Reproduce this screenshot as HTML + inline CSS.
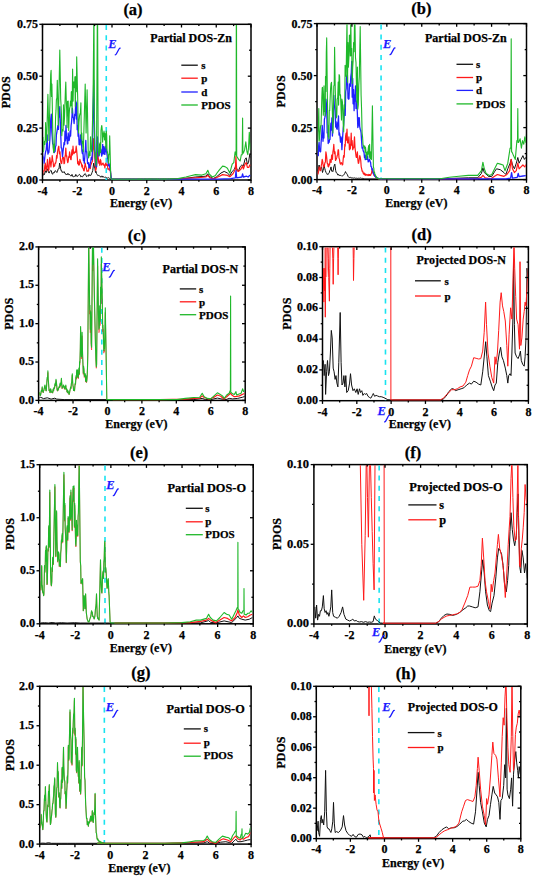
<!DOCTYPE html>
<html><head><meta charset="utf-8"><style>
html,body{margin:0;padding:0;background:#fff;}
svg{display:block;}
text{font-family:"Liberation Serif", serif;font-weight:bold;fill:#000;stroke:#000;stroke-width:0.25px;}
.tl{font-size:12px;}
.pt{font-size:16.5px;}
.ax{font-size:12px;}
.lt{font-size:12px;}
.lg{font-size:11px;}
.ef{font-size:12.5px;font-style:italic;fill:#1a1aff;stroke:#1a1aff;}
</style></head><body>
<svg width="533" height="876" viewBox="0 0 533 876">
<rect width="533" height="876" fill="#fff"/>
<clipPath id="ca"><rect x="43.2" y="25.0" width="207.1" height="156.5"/></clipPath>
<rect x="42.5" y="24.3" width="208.50" height="155.70" fill="none" stroke="#000" stroke-width="1.5"/>
<line x1="106.27" y1="25.1" x2="106.27" y2="180" stroke="#19e3f0" stroke-width="1.6" stroke-dasharray="5,5.2"/>
<g clip-path="url(#ca)" fill="none" stroke-linejoin="round">
<polyline points="42.4,176.3 43.1,175.2 43.8,173.5 44.3,174.7 44.8,173.2 45.3,170.7 46.2,172.5 46.9,170.0 47.5,168.8 48.5,172.5 49.1,173.1 49.8,171.6 50.3,171.0 50.8,170.3 51.3,170.7 51.9,173.3 52.6,174.3 53.2,172.5 53.8,172.8 54.4,172.7 55.1,170.7 55.7,171.0 56.3,171.5 56.9,172.5 57.5,171.5 58.0,169.4 58.5,168.8 59.0,168.9 59.6,163.1 60.2,165.6 60.7,168.8 61.2,170.9 61.7,170.7 62.2,172.5 62.8,172.1 63.5,172.3 64.1,171.6 64.7,173.1 65.2,173.2 65.8,174.5 66.4,174.4 67.0,175.0 67.6,173.6 68.2,173.5 68.9,174.9 69.5,174.5 70.1,175.4 70.8,175.9 71.4,175.9 72.0,174.4 72.6,176.4 73.3,176.8 73.9,176.3 74.5,176.3 75.2,176.4 75.8,174.4 76.4,176.0 77.0,176.4 77.7,176.3 78.3,175.4 78.9,174.7 79.5,174.4 80.2,175.1 80.8,176.8 81.4,176.3 82.1,177.0 82.7,176.7 83.3,175.4 83.9,175.3 84.6,174.0 85.2,173.5 85.8,174.7 86.5,176.6 87.1,176.3 87.7,175.7 88.3,176.3 89.0,174.4 89.6,175.5 90.2,175.6 90.8,175.4 91.5,173.9 92.1,172.4 92.7,170.7 93.7,163.1 94.3,166.1 95.0,168.8 95.5,172.5 96.0,171.3 96.5,173.5 97.1,174.4 97.8,175.6 98.4,175.4 99.0,175.8 99.6,175.9 100.3,176.3 100.9,177.3 101.5,176.2 102.1,175.9 102.8,177.3 103.4,176.9 104.0,176.7 104.7,177.5 105.3,177.2 105.9,177.3 106.5,177.7 107.0,177.7 107.6,178.1 108.2,177.6 108.7,177.8 109.4,178.3 110.0,178.7 110.6,179.1 111.2,179.1 111.6,179.2 112.1,179.2 112.6,179.2 113.1,179.2 113.6,179.2 114.1,179.2 114.6,179.2 115.1,179.2 115.6,179.2 116.1,179.2 116.6,179.2 117.1,179.2 117.6,179.2 118.1,179.2 118.6,179.2 119.1,179.2 119.6,179.2 120.1,179.2 120.6,179.2 121.1,179.2 121.6,179.2 122.1,179.2 122.6,179.2 123.1,179.2 123.7,179.2 124.2,179.2 124.7,179.2 125.2,179.2 125.7,179.2 126.2,179.2 126.7,179.2 127.2,179.2 127.7,179.2 128.2,179.2 128.7,179.2 129.2,179.2 129.7,179.2 130.2,179.2 130.7,179.2 131.2,179.2 131.7,179.2 132.2,179.2 132.7,179.2 133.2,179.2 133.7,179.2 134.2,179.2 134.7,179.2 135.2,179.2 135.7,179.2 136.2,179.2 136.8,179.2 137.3,179.2 137.8,179.2 138.3,179.2 138.8,179.2 139.3,179.2 139.8,179.2 140.3,179.2 140.8,179.2 141.3,179.2 141.8,179.2 142.3,179.1 142.8,179.2 143.3,179.2 143.8,179.2 144.3,179.1 144.8,179.2 145.3,179.2 145.8,179.1 146.3,179.2 146.8,179.2 147.3,179.1 147.8,179.2 148.3,179.2 148.8,179.2 149.3,179.2 149.8,179.1 150.4,179.2 150.9,179.2 151.4,179.1 151.9,179.2 152.4,179.1 152.9,179.2 153.4,179.2 153.9,179.2 154.4,179.2 154.9,179.1 155.4,179.2 155.9,179.1 156.4,179.2 156.9,179.2 157.4,179.2 157.9,179.2 158.4,179.2 158.9,179.2 159.4,179.2 159.9,179.2 160.4,179.2 160.9,179.2 161.4,179.2 161.9,179.2 162.4,179.2 162.9,179.2 163.5,179.2 164.0,179.2 164.5,179.1 165.0,179.1 165.5,179.2 166.0,179.2 166.5,179.2 167.0,179.2 167.5,179.2 168.0,179.2 168.5,179.2 169.0,179.2 169.5,179.2 170.0,179.1 185.9,178.3 195.5,177.0 205.9,176.2 207.8,173.8 209.1,176.2 213.1,178.6 216.3,177.0 221.0,173.0 224.2,171.4 227.4,173.0 229.8,175.4 232.2,171.4 234.6,169.0 235.9,165.0 237.0,169.8 238.6,170.6 240.2,166.6 241.8,165.0 243.4,165.8 245.0,159.4 246.2,157.8 247.4,164.2 248.5,162.6 249.7,154.7 251.0,157.8 251.7,156.3" stroke="#111111" stroke-width="1.0"/>
<polyline points="42.4,174.4 42.9,173.9 43.3,171.4 43.8,170.7 44.3,171.0 44.8,165.9 45.3,163.1 45.7,168.6 46.2,170.7 46.7,166.7 47.1,163.9 47.5,159.4 48.0,167.4 48.5,170.7 48.9,169.4 49.4,162.4 49.8,157.5 50.4,162.0 50.9,166.9 51.4,162.2 51.8,161.1 52.2,155.6 52.7,160.0 53.1,162.0 53.6,166.9 54.1,165.2 54.6,166.1 55.1,163.1 55.6,163.3 56.1,161.1 56.6,155.6 57.0,158.1 57.5,152.3 57.9,149.9 58.4,147.0 58.8,146.2 59.4,153.8 60.0,151.8 60.5,160.2 61.1,163.1 61.7,163.5 62.2,159.4 62.7,157.4 63.1,157.2 63.5,157.5 64.0,163.7 64.5,163.1 64.9,157.4 65.4,154.5 65.8,148.1 66.3,156.1 66.7,155.6 67.2,160.0 67.7,162.7 68.2,161.2 68.7,156.5 69.1,157.5 69.6,151.8 70.1,155.9 70.7,159.4 71.1,159.7 71.6,153.3 72.0,149.9 72.5,154.9 73.0,146.2 73.4,151.0 73.9,153.7 74.5,152.6 75.0,151.8 75.6,152.3 76.2,146.2 76.7,150.9 77.3,157.5 77.7,163.7 78.2,161.4 78.6,165.0 79.0,165.1 79.5,164.3 79.9,159.4 80.5,161.8 81.1,163.1 81.5,164.0 81.9,167.0 82.4,165.0 82.8,168.3 83.3,168.6 83.7,170.7 84.2,170.8 84.7,166.5 85.2,163.1 85.6,165.9 86.1,167.4 86.5,168.8 87.0,171.5 87.5,170.9 88.0,170.7 88.5,171.2 88.9,168.1 89.3,166.9 89.8,165.4 90.3,168.7 90.8,165.0 91.3,164.0 91.9,162.1 92.4,161.2 92.8,154.2 93.2,146.9 93.7,138.6 94.1,147.7 94.6,151.8 95.2,165.4 95.7,170.7 96.3,168.4 96.9,163.1 97.6,151.8 98.2,157.2 98.8,163.1 99.3,161.3 99.8,165.3 100.3,159.4 100.8,160.5 101.3,164.7 101.8,165.0 102.2,164.3 102.6,163.4 103.1,163.1 103.5,164.5 104.0,165.4 104.4,165.0 104.9,167.8 105.4,163.8 105.9,163.1 106.4,165.3 106.9,164.4 107.4,165.0 107.9,169.2 108.3,169.0 108.7,168.8 109.2,169.9 109.6,170.1 110.1,166.9 110.6,172.8 111.2,178.2 111.6,179.2 112.0,179.2 112.4,179.2 112.8,179.2 113.2,179.2 113.6,179.2 114.0,179.2 114.4,179.2 114.8,179.2 115.2,179.2 115.6,179.2 116.0,179.2 116.4,179.2 116.8,179.2 117.2,179.2 117.6,179.2 118.0,179.2 118.4,179.2 118.8,179.2 119.2,179.2 119.6,179.2 120.0,179.2 120.4,179.2 120.8,179.2 121.2,179.2 121.6,179.2 122.0,179.2 122.4,179.2 122.8,179.2 123.2,179.2 123.6,179.2 124.0,179.2 124.4,179.2 124.8,179.2 125.2,179.2 125.6,179.2 126.0,179.2 126.4,179.2 126.8,179.2 127.2,179.2 127.6,179.2 128.0,179.2 128.4,179.2 128.8,179.2 129.2,179.2 129.6,179.2 130.0,179.2 130.4,179.2 130.8,179.2 131.2,179.2 131.6,179.2 132.0,179.2 132.4,179.2 132.8,179.2 133.2,179.2 133.6,179.2 134.0,179.2 134.4,179.2 134.8,179.2 135.2,179.2 135.6,179.2 136.0,179.2 136.4,179.2 136.8,179.2 137.2,179.2 137.6,179.2 138.0,179.2 138.4,179.2 138.8,179.2 139.2,179.2 139.6,179.2 140.0,179.2 140.4,179.2 140.8,179.2 141.2,179.2 141.6,179.2 142.0,179.2 142.4,179.2 142.8,179.2 143.2,179.2 143.6,179.2 144.0,179.2 144.4,179.2 144.8,179.2 145.2,179.2 145.6,179.2 146.0,179.2 146.4,179.2 146.8,179.2 147.2,179.2 147.6,179.2 148.0,179.2 148.4,179.2 148.8,179.2 149.2,179.2 149.6,179.2 150.0,179.2 150.4,179.2 150.8,179.2 151.2,179.2 151.6,179.2 152.0,179.2 152.4,179.2 152.8,179.2 153.2,179.2 153.6,179.2 154.0,179.2 154.4,179.2 154.8,179.2 155.2,179.2 155.6,179.2 156.0,179.2 156.4,179.2 156.8,179.2 157.2,179.2 157.6,179.2 158.0,179.2 158.4,179.2 158.8,179.2 159.2,179.2 159.6,179.2 160.0,179.2 160.4,179.2 160.8,179.2 161.2,179.2 161.6,179.2 162.0,179.2 162.4,179.2 162.8,179.2 163.2,179.2 163.6,179.2 164.0,179.2 164.4,179.2 164.8,179.2 165.2,179.2 165.6,179.2 166.0,179.2 166.4,179.2 166.8,179.2 167.2,179.2 167.6,179.2 168.0,179.2 168.4,179.2 168.8,179.2 169.2,179.2 169.6,179.2 170.0,179.2 195.5,177.8 205.9,177.0 207.8,175.4 209.9,177.8 213.9,178.9 217.8,177.0 222.6,174.6 227.4,175.4 229.8,176.7 233.0,173.8 235.4,169.0 235.9,156.3 236.7,170.6 238.6,171.4 241.0,169.0 242.6,165.8 243.4,169.0 245.0,164.2 246.2,162.6 247.4,167.4 248.9,167.4 249.7,165.0 251.7,165.8" stroke="#ff1a1a" stroke-width="1.2"/>
<polyline points="42.4,151.8 42.9,157.2 43.3,156.8 43.7,159.0 44.1,163.1 44.6,159.1 45.1,154.7 45.6,151.8 46.2,150.0 46.7,143.4 47.2,134.9 47.6,149.6 48.0,154.1 48.5,151.8 48.9,152.2 49.4,146.4 49.9,139.0 50.4,125.5 50.8,118.6 51.3,114.2 51.8,131.7 52.2,136.8 52.7,143.9 53.2,144.3 53.7,149.6 54.2,152.5 54.7,151.8 55.1,151.4 55.5,146.3 56.0,145.6 56.4,134.9 56.9,131.9 57.4,128.7 57.9,125.5 58.4,129.4 58.8,108.5 59.3,117.2 59.8,106.6 60.2,119.0 60.7,133.0 61.2,147.9 61.7,148.1 62.1,152.3 62.5,156.7 63.0,151.8 63.5,147.5 64.1,142.4 64.6,144.7 65.0,131.1 65.5,140.8 66.0,125.5 66.5,138.3 66.9,136.8 67.4,143.9 67.8,143.7 68.2,133.0 68.7,138.6 69.2,140.5 69.7,136.6 70.1,131.1 70.6,136.0 71.1,125.5 71.5,122.6 72.0,115.9 72.4,108.5 73.0,117.4 73.5,117.9 74.1,123.5 74.7,114.2 75.2,115.5 75.8,101.0 76.3,119.0 76.7,102.9 77.2,129.7 77.7,125.5 78.1,136.3 78.6,133.0 79.1,144.5 79.5,140.5 80.0,144.9 80.5,134.9 81.0,137.0 81.4,140.5 81.9,151.0 82.4,153.6 82.9,149.9 83.4,160.4 83.8,158.8 84.3,163.1 84.8,156.7 85.3,150.0 85.8,140.5 86.2,151.4 86.7,151.8 87.1,157.2 87.6,163.7 88.0,163.1 88.5,162.8 88.9,167.8 89.3,165.0 89.8,167.4 90.3,163.0 90.8,161.2 91.3,157.5 91.9,159.7 92.4,151.8 93.7,80.3 94.6,133.0 95.2,156.3 95.7,165.0 96.5,166.9 97.0,152.8 97.4,136.8 97.9,152.3 98.4,151.8 98.9,156.2 99.4,154.4 99.9,149.9 100.3,152.2 100.8,149.1 101.2,151.8 101.7,156.1 102.2,153.3 102.7,144.3 103.2,153.9 103.6,146.6 104.0,148.1 104.5,154.2 104.9,154.4 105.3,146.2 105.8,151.5 106.3,148.1 106.9,153.6 107.4,157.5 107.9,159.4 108.3,165.7 108.7,163.1 109.2,164.4 109.6,167.1 110.1,166.9 110.6,173.2 111.2,178.2 111.6,179.2 112.0,179.2 112.4,179.2 112.8,179.2 113.2,179.2 113.6,179.2 114.0,179.2 114.4,179.2 114.8,179.2 115.2,179.2 115.6,179.2 116.0,179.2 116.4,179.2 116.8,179.2 117.2,179.2 117.6,179.2 118.0,179.2 118.4,179.2 118.8,179.2 119.2,179.2 119.6,179.2 120.0,179.2 120.4,179.2 120.8,179.2 121.2,179.2 121.6,179.2 122.0,179.2 122.4,179.2 122.8,179.2 123.2,179.2 123.6,179.2 124.0,179.2 124.4,179.2 124.8,179.2 125.2,179.2 125.6,179.2 126.0,179.2 126.4,179.2 126.8,179.2 127.2,179.2 127.6,179.2 128.0,179.2 128.4,179.2 128.8,179.2 129.2,179.2 129.6,179.2 130.0,179.2 130.4,179.2 130.8,179.2 131.2,179.2 131.6,179.2 132.0,179.2 132.4,179.2 132.8,179.2 133.2,179.2 133.6,179.2 134.0,179.2 134.4,179.2 134.8,179.2 135.2,179.2 135.6,179.2 136.0,179.2 136.4,179.2 136.8,179.2 137.2,179.2 137.6,179.2 138.0,179.2 138.4,179.2 138.8,179.2 139.2,179.2 139.6,179.2 140.0,179.2 140.4,179.2 140.8,179.2 141.2,179.2 141.6,179.2 142.0,179.2 142.4,179.2 142.8,179.2 143.2,179.2 143.6,179.2 144.0,179.2 144.4,179.2 144.8,179.2 145.2,179.2 145.6,179.2 146.0,179.2 146.4,179.2 146.8,179.2 147.2,179.2 147.6,179.2 148.0,179.2 148.4,179.2 148.8,179.2 149.2,179.2 149.6,179.2 150.0,179.2 150.4,179.2 150.8,179.2 151.2,179.2 151.6,179.2 152.0,179.2 152.4,179.2 152.8,179.2 153.2,179.2 153.6,179.2 154.0,179.2 154.4,179.2 154.8,179.2 155.2,179.2 155.6,179.2 156.0,179.2 156.4,179.2 156.8,179.2 157.2,179.2 157.6,179.2 158.0,179.2 158.4,179.2 158.8,179.2 159.2,179.2 159.6,179.2 160.0,179.2 160.4,179.2 160.8,179.2 161.2,179.2 161.6,179.2 162.0,179.2 162.4,179.2 162.8,179.2 163.2,179.2 163.6,179.2 164.0,179.2 164.4,179.2 164.8,179.2 165.2,179.2 165.6,179.2 166.0,179.2 166.4,179.2 166.8,179.2 167.2,179.2 167.6,179.2 168.0,179.2 168.4,179.2 168.8,179.2 169.2,179.2 169.6,179.2 170.0,179.2 217.8,179.2 230.6,178.6 235.4,177.8 236.0,170.6 236.7,177.8 241.8,177.0 242.6,173.8 243.4,177.0 246.6,176.2 248.1,177.0 249.7,175.4 251.7,176.2" stroke="#2020ff" stroke-width="1.3"/>
<polyline points="42.4,136.8 42.8,146.4 43.1,137.4 43.5,151.7 43.8,148.1 44.1,144.3 44.5,141.4 44.9,144.4 45.3,138.7 45.6,122.6 46.1,138.5 46.6,142.4 47.9,94.4 48.9,140.5 50.7,74.6 51.1,70.3 51.5,96.5 51.9,84.0 52.8,133.0 53.2,147.8 53.7,152.7 54.1,144.3 54.5,150.7 54.9,137.0 55.3,129.8 55.6,116.7 56.0,110.4 56.4,99.8 56.9,97.6 57.3,80.3 58.3,125.5 59.8,50.1 60.7,99.1 61.1,105.8 61.5,116.0 61.8,135.6 62.2,129.2 62.7,130.1 63.1,131.1 63.5,104.7 64.0,125.1 64.5,117.9 64.9,105.8 65.4,90.6 65.8,82.1 66.3,101.4 66.7,110.4 67.1,127.6 67.5,101.4 67.9,115.8 68.2,101.0 68.7,130.6 69.2,114.2 69.6,108.3 70.1,106.3 70.5,101.0 70.9,105.7 71.3,91.9 71.6,91.6 72.1,113.0 72.6,69.0 73.1,101.1 73.5,82.1 74.0,82.0 74.5,87.8 74.9,76.7 75.3,106.2 75.8,76.5 76.3,91.7 76.7,56.7 77.7,99.1 78.1,119.2 78.6,133.0 79.0,121.9 79.5,115.9 79.9,114.2 80.4,112.9 80.9,102.9 81.3,138.4 81.8,133.0 82.2,143.5 82.6,141.4 82.9,147.2 83.3,151.8 85.2,84.0 86.1,133.0 87.1,89.7 88.2,151.8 88.6,157.9 89.0,155.2 89.3,155.6 89.7,151.0 90.1,155.6 90.5,136.8 90.9,147.9 91.3,149.0 91.8,151.8 93.1,95.3 93.8,20.0 94.0,20.0 94.5,151.8 94.9,152.2 95.3,158.1 95.7,157.3 96.1,165.8 96.5,161.2 97.3,20.0 97.6,20.0 98.2,151.8 98.5,152.2 98.9,155.2 99.2,155.3 99.6,143.8 99.9,150.3 100.3,142.4 100.6,152.5 101.0,130.6 101.4,127.2 101.8,125.5 102.2,129.6 102.6,142.1 103.1,133.0 103.6,136.6 104.0,131.1 104.5,139.9 105.0,133.0 105.4,137.9 105.9,148.1 106.3,131.1 106.7,135.4 107.0,150.9 107.4,151.8 107.8,153.8 108.2,158.0 108.5,163.1 108.9,155.0 109.3,154.0 109.7,135.8 110.8,178.2 111.2,178.7 111.6,179.1 111.9,179.2 112.2,179.2 112.6,179.0 112.9,179.2 113.2,179.2 113.5,179.1 113.9,179.1 114.2,179.1 114.5,179.2 114.9,179.2 115.2,179.2 115.5,179.1 115.9,179.1 116.2,179.2 116.5,179.1 116.8,179.2 117.2,179.2 117.5,179.2 117.8,179.1 118.2,179.2 118.5,179.2 118.8,179.2 119.2,179.2 119.5,179.2 119.8,179.2 120.1,179.0 120.5,179.0 120.8,179.2 121.1,179.2 121.5,179.1 121.8,179.2 122.1,179.2 122.5,179.1 122.8,179.2 123.1,179.2 123.4,179.2 123.8,179.2 124.1,179.1 124.4,179.2 124.8,179.2 125.1,179.1 125.4,179.2 125.8,179.2 126.1,179.1 126.4,179.1 126.8,179.1 127.1,179.2 127.4,179.2 127.7,179.1 128.1,179.1 128.4,179.1 128.7,179.0 129.1,179.1 129.4,179.2 129.7,179.2 130.1,179.1 130.4,179.2 130.7,179.2 131.0,179.0 131.4,179.2 131.7,179.2 132.0,179.2 132.4,179.2 132.7,179.1 133.0,179.1 133.4,179.2 133.7,179.0 134.0,179.1 134.3,179.1 134.7,179.2 135.0,179.2 135.3,179.2 135.7,179.1 136.0,179.0 136.3,179.2 136.7,179.2 137.0,179.2 137.3,179.1 137.6,179.2 138.0,179.1 138.3,179.2 138.6,179.0 139.0,179.2 139.3,178.9 139.6,179.1 140.0,179.1 140.3,179.0 140.6,179.2 140.9,178.9 141.3,179.2 141.6,179.0 141.9,179.2 142.3,179.2 142.6,179.2 142.9,179.1 143.3,179.2 143.6,179.2 143.9,179.2 144.2,179.0 144.6,179.0 144.9,178.9 145.2,179.2 145.6,178.9 145.9,179.2 146.2,179.1 146.6,179.0 146.9,179.1 147.2,179.2 147.5,179.2 147.9,179.2 148.2,178.9 148.5,179.2 148.9,178.9 149.2,178.9 149.5,179.2 149.9,179.1 150.2,179.2 150.5,179.0 150.9,178.9 151.2,178.9 151.5,179.1 151.8,179.1 152.2,179.0 152.5,179.0 152.8,179.1 153.2,179.1 153.5,178.9 153.8,179.0 154.2,179.2 154.5,179.0 154.8,179.0 155.1,178.9 155.5,179.1 155.8,179.2 156.1,178.9 156.5,179.2 156.8,178.9 157.1,179.2 157.5,179.2 157.8,179.1 158.1,179.2 158.4,178.9 158.8,179.2 159.1,179.2 159.4,179.2 159.8,179.2 160.1,179.0 160.4,178.9 160.8,179.1 161.1,179.2 161.4,178.9 161.7,179.2 162.1,179.2 162.4,179.1 162.7,178.9 163.1,178.9 163.4,178.9 163.7,179.2 164.1,179.0 164.4,179.0 164.7,179.2 165.0,178.9 165.4,179.2 165.7,178.9 166.0,179.2 166.4,179.0 166.7,179.1 167.0,179.0 167.4,179.0 167.7,179.1 168.0,179.1 168.3,178.8 168.7,179.0 169.0,179.1 169.3,178.9 169.7,179.1 170.0,178.9 178.0,178.6 185.9,177.0 190.7,175.7 195.5,174.6 201.9,175.1 205.9,173.8 207.8,170.3 209.1,173.8 212.3,177.0 215.5,175.4 217.0,173.0 219.4,169.8 222.6,166.1 225.0,166.6 227.4,168.2 229.8,173.0 232.2,164.2 233.8,162.6 235.1,151.8 236.1,155.5 236.3,14.3 236.5,14.3 236.7,156.3 238.6,159.4 240.2,161.0 241.3,154.7 242.2,154.7 242.6,118.0 242.9,153.1 243.4,153.1 244.6,149.9 245.8,141.9 246.9,151.5 247.8,154.7 248.5,148.3 249.3,132.3 250.2,149.9 251.0,143.5 251.7,141.9" stroke="#1fb82a" stroke-width="1.1"/>
</g>
<line x1="42.50" y1="180" x2="42.50" y2="183.2" stroke="#000" stroke-width="1.3"/>
<line x1="42.50" y1="24.3" x2="42.50" y2="27.5" stroke="#000" stroke-width="1.3"/>
<text x="42.50" y="194.80" text-anchor="middle" class="tl">-4</text>
<line x1="59.88" y1="180" x2="59.88" y2="181.8" stroke="#000" stroke-width="1.3"/>
<line x1="59.88" y1="24.3" x2="59.88" y2="26.1" stroke="#000" stroke-width="1.3"/>
<line x1="77.25" y1="180" x2="77.25" y2="183.2" stroke="#000" stroke-width="1.3"/>
<line x1="77.25" y1="24.3" x2="77.25" y2="27.5" stroke="#000" stroke-width="1.3"/>
<text x="77.25" y="194.80" text-anchor="middle" class="tl">-2</text>
<line x1="94.62" y1="180" x2="94.62" y2="181.8" stroke="#000" stroke-width="1.3"/>
<line x1="94.62" y1="24.3" x2="94.62" y2="26.1" stroke="#000" stroke-width="1.3"/>
<line x1="112.00" y1="180" x2="112.00" y2="183.2" stroke="#000" stroke-width="1.3"/>
<line x1="112.00" y1="24.3" x2="112.00" y2="27.5" stroke="#000" stroke-width="1.3"/>
<text x="112.00" y="194.80" text-anchor="middle" class="tl">0</text>
<line x1="129.38" y1="180" x2="129.38" y2="181.8" stroke="#000" stroke-width="1.3"/>
<line x1="129.38" y1="24.3" x2="129.38" y2="26.1" stroke="#000" stroke-width="1.3"/>
<line x1="146.75" y1="180" x2="146.75" y2="183.2" stroke="#000" stroke-width="1.3"/>
<line x1="146.75" y1="24.3" x2="146.75" y2="27.5" stroke="#000" stroke-width="1.3"/>
<text x="146.75" y="194.80" text-anchor="middle" class="tl">2</text>
<line x1="164.12" y1="180" x2="164.12" y2="181.8" stroke="#000" stroke-width="1.3"/>
<line x1="164.12" y1="24.3" x2="164.12" y2="26.1" stroke="#000" stroke-width="1.3"/>
<line x1="181.50" y1="180" x2="181.50" y2="183.2" stroke="#000" stroke-width="1.3"/>
<line x1="181.50" y1="24.3" x2="181.50" y2="27.5" stroke="#000" stroke-width="1.3"/>
<text x="181.50" y="194.80" text-anchor="middle" class="tl">4</text>
<line x1="198.88" y1="180" x2="198.88" y2="181.8" stroke="#000" stroke-width="1.3"/>
<line x1="198.88" y1="24.3" x2="198.88" y2="26.1" stroke="#000" stroke-width="1.3"/>
<line x1="216.25" y1="180" x2="216.25" y2="183.2" stroke="#000" stroke-width="1.3"/>
<line x1="216.25" y1="24.3" x2="216.25" y2="27.5" stroke="#000" stroke-width="1.3"/>
<text x="216.25" y="194.80" text-anchor="middle" class="tl">6</text>
<line x1="233.62" y1="180" x2="233.62" y2="181.8" stroke="#000" stroke-width="1.3"/>
<line x1="233.62" y1="24.3" x2="233.62" y2="26.1" stroke="#000" stroke-width="1.3"/>
<line x1="251.00" y1="180" x2="251.00" y2="183.2" stroke="#000" stroke-width="1.3"/>
<line x1="251.00" y1="24.3" x2="251.00" y2="27.5" stroke="#000" stroke-width="1.3"/>
<text x="251.00" y="194.80" text-anchor="middle" class="tl">8</text>
<line x1="42.5" y1="180.00" x2="39.3" y2="180.00" stroke="#000" stroke-width="1.3"/>
<line x1="251" y1="180.00" x2="247.8" y2="180.00" stroke="#000" stroke-width="1.3"/>
<line x1="42.5" y1="154.05" x2="40.7" y2="154.05" stroke="#000" stroke-width="1.3"/>
<line x1="251" y1="154.05" x2="249.2" y2="154.05" stroke="#000" stroke-width="1.3"/>
<line x1="42.5" y1="128.10" x2="39.3" y2="128.10" stroke="#000" stroke-width="1.3"/>
<line x1="251" y1="128.10" x2="247.8" y2="128.10" stroke="#000" stroke-width="1.3"/>
<line x1="42.5" y1="102.15" x2="40.7" y2="102.15" stroke="#000" stroke-width="1.3"/>
<line x1="251" y1="102.15" x2="249.2" y2="102.15" stroke="#000" stroke-width="1.3"/>
<line x1="42.5" y1="76.20" x2="39.3" y2="76.20" stroke="#000" stroke-width="1.3"/>
<line x1="251" y1="76.20" x2="247.8" y2="76.20" stroke="#000" stroke-width="1.3"/>
<line x1="42.5" y1="50.25" x2="40.7" y2="50.25" stroke="#000" stroke-width="1.3"/>
<line x1="251" y1="50.25" x2="249.2" y2="50.25" stroke="#000" stroke-width="1.3"/>
<line x1="42.5" y1="24.30" x2="39.3" y2="24.30" stroke="#000" stroke-width="1.3"/>
<line x1="251" y1="24.30" x2="247.8" y2="24.30" stroke="#000" stroke-width="1.3"/>
<text x="37.90" y="184.00" text-anchor="end" class="tl" style="font-size:12px">0.00</text>
<text x="37.90" y="132.10" text-anchor="end" class="tl" style="font-size:12px">0.25</text>
<text x="37.90" y="80.20" text-anchor="end" class="tl" style="font-size:12px">0.50</text>
<text x="37.90" y="28.30" text-anchor="end" class="tl" style="font-size:12px">0.75</text>
<text x="133" y="14.5" text-anchor="middle" class="pt">(a)</text>
<text x="141.1" y="206.8" text-anchor="middle" class="ax">Energy (eV)</text>
<text transform="translate(6,92.3) rotate(-90)" x="0" y="4.2" text-anchor="middle" class="ax">PDOS</text>
<text x="150.3" y="42.4" class="lt" style="font-size:12px">Partial DOS-Zn</text>
<line x1="181.3" y1="65.2" x2="197.8" y2="65.2" stroke="#111111" stroke-width="1.3"/>
<text x="201.3" y="69.1" class="lg" style="font-size:11px">s</text>
<line x1="181.3" y1="78.2" x2="197.8" y2="78.2" stroke="#ff1a1a" stroke-width="1.3"/>
<text x="201.3" y="82.1" class="lg" style="font-size:11px">p</text>
<line x1="181.3" y1="92" x2="197.8" y2="92" stroke="#2020ff" stroke-width="1.3"/>
<text x="201.3" y="95.9" class="lg" style="font-size:11px">d</text>
<line x1="181.3" y1="105" x2="197.8" y2="105" stroke="#1fb82a" stroke-width="1.3"/>
<text x="201.3" y="108.9" class="lg" style="font-size:11px">PDOS</text>
<text x="108.2" y="48.10" class="ef">E</text>
<path d="M120.20,48.00 Q119.40,48.00 119.00,49.00 L116.30,54.00 Q115.90,54.80 115.20,54.80" fill="none" stroke="#1a1aff" stroke-width="1.25" stroke-linecap="round"/>
<clipPath id="cb"><rect x="317.7" y="24.3" width="208.1" height="156.8"/></clipPath>
<rect x="317" y="23.6" width="209.50" height="156.00" fill="none" stroke="#000" stroke-width="1.5"/>
<line x1="381.07" y1="24.400000000000002" x2="381.07" y2="179.6" stroke="#19e3f0" stroke-width="1.6" stroke-dasharray="5,5.2"/>
<g clip-path="url(#cb)" fill="none" stroke-linejoin="round">
<polyline points="316.9,168.8 317.8,171.6 318.5,168.0 319.1,165.0 319.7,167.8 320.3,170.7 320.9,167.9 321.6,166.9 322.5,172.5 323.0,170.7 323.5,168.8 324.0,165.0 324.7,168.2 325.4,170.7 326.0,172.4 326.7,173.5 327.2,174.5 327.7,174.1 328.2,174.4 328.7,173.4 329.2,172.9 329.7,170.7 330.3,169.8 331.0,166.9 331.7,171.2 332.3,170.7 332.8,171.7 333.3,170.2 333.8,166.9 334.8,164.1 335.7,170.7 336.2,172.7 336.7,172.7 337.2,173.5 337.9,175.1 338.5,174.4 339.2,175.7 339.8,175.2 340.4,175.4 341.1,175.5 341.7,176.1 342.3,175.9 342.9,175.6 343.6,175.1 344.2,174.4 344.8,173.3 345.5,171.6 346.1,172.9 346.6,173.5 347.3,174.5 348.0,176.3 348.6,177.0 349.2,177.7 349.8,177.3 350.4,177.2 351.0,177.9 351.5,177.9 352.1,178.2 352.7,177.8 353.2,177.9 353.7,178.2 354.3,177.9 354.8,178.0 355.4,178.3 355.9,178.1 356.4,178.2 357.0,178.1 357.5,178.4 358.0,178.3 358.6,178.2 359.1,178.1 359.7,178.3 360.2,177.8 360.7,178.2 361.3,178.1 361.8,178.6 362.4,178.4 362.9,178.4 363.4,178.5 364.0,178.6 364.5,178.8 365.0,178.8 365.5,178.8 366.0,178.8 366.5,178.8 367.0,178.8 367.5,178.8 368.0,178.8 368.5,178.8 369.0,178.8 369.5,178.8 370.0,178.8 370.5,178.8 371.0,178.8 371.5,178.8 372.0,178.8 372.6,178.8 373.1,178.8 373.6,178.8 374.1,178.8 374.7,178.8 375.2,178.8 375.7,178.8 376.3,178.8 376.8,178.8 377.3,178.8 377.9,178.8 378.4,178.8 378.9,178.8 379.4,178.8 380.0,178.8 380.5,178.8 381.0,178.8 381.5,178.8 382.0,178.8 382.5,178.8 383.0,178.8 383.5,178.8 384.0,178.8 384.5,178.8 385.0,178.8 385.5,178.8 386.0,178.8 386.5,178.8 387.0,178.8 387.5,178.8 388.0,178.8 388.5,178.8 389.0,178.8 389.5,178.8 390.0,178.8 390.5,178.8 391.0,178.8 391.5,178.8 392.0,178.8 392.5,178.8 393.0,178.8 393.5,178.8 394.0,178.8 394.5,178.8 395.0,178.8 395.5,178.8 396.0,178.8 396.5,178.8 397.0,178.8 397.5,178.8 398.0,178.8 398.5,178.8 399.0,178.8 399.5,178.8 400.0,178.8 400.5,178.8 401.0,178.8 401.5,178.8 402.0,178.8 402.5,178.8 403.0,178.8 403.5,178.8 404.0,178.8 404.5,178.8 405.0,178.8 405.5,178.8 406.0,178.8 406.5,178.8 407.0,178.8 407.5,178.8 408.0,178.8 408.5,178.8 409.0,178.8 409.5,178.8 410.0,178.8 410.5,178.8 411.0,178.8 411.5,178.8 412.0,178.8 412.5,178.8 413.0,178.8 413.5,178.8 414.0,178.8 414.5,178.8 415.0,178.8 415.5,178.8 440.0,178.8 468.3,177.8 477.7,177.8 481.4,173.5 482.9,167.9 484.3,172.6 489.0,176.7 491.8,176.3 494.6,171.6 496.5,168.8 500.3,169.7 504.0,172.6 505.9,174.5 507.8,168.8 510.1,163.2 511.2,159.4 512.5,165.0 514.4,168.8 516.3,163.2 517.8,157.5 519.1,163.2 521.0,159.4 522.9,155.6 524.4,159.4 525.7,157.5 527.0,160.3" stroke="#111111" stroke-width="1.0"/>
<polyline points="316.9,170.7 317.4,172.9 317.8,174.4 318.3,173.0 318.7,171.0 319.1,166.9 319.6,168.8 320.1,169.2 320.6,170.7 321.2,166.0 321.7,163.4 322.2,159.4 322.6,160.8 323.0,163.9 323.5,166.9 323.9,167.0 324.4,165.6 324.8,163.1 325.4,161.9 325.9,151.8 326.4,154.8 326.8,158.3 327.2,163.1 327.7,163.9 328.1,166.5 328.6,166.9 329.1,163.9 329.6,165.0 330.1,159.4 330.6,160.6 331.1,162.5 331.6,155.6 332.0,154.8 332.5,159.3 332.9,151.8 333.4,149.1 333.8,144.3 334.4,153.7 335.0,151.8 335.5,160.4 336.1,159.4 336.7,157.9 337.2,155.6 337.7,154.4 338.1,149.8 338.5,149.9 339.0,158.0 339.5,159.4 339.9,162.3 340.4,164.2 340.8,163.1 341.3,162.6 341.8,163.3 342.3,165.0 342.7,164.8 343.2,159.1 343.6,155.6 344.2,157.2 344.8,144.3 345.2,146.2 345.6,136.0 346.1,133.0 346.5,140.1 347.0,129.2 347.5,142.8 348.0,140.5 348.4,142.8 348.9,136.8 349.4,149.8 349.8,144.3 350.3,149.0 350.7,144.4 351.2,133.0 351.6,145.1 352.1,140.5 352.7,149.7 353.2,148.1 353.7,148.0 354.1,142.1 354.5,136.8 355.0,147.7 355.5,151.8 356.0,156.0 356.4,157.5 356.9,155.4 357.4,151.8 357.8,159.3 358.3,163.3 358.7,163.1 359.3,158.8 359.8,155.6 360.3,157.5 360.8,161.2 361.2,166.8 361.7,168.8 362.1,171.1 362.6,171.0 363.0,172.5 363.5,174.0 364.0,172.8 364.4,174.8 364.9,173.5 365.4,174.6 365.8,175.4 366.3,174.8 366.8,174.4 367.3,175.1 367.7,174.8 368.2,175.6 368.7,174.4 369.1,175.5 369.6,174.6 370.1,175.4 370.6,175.4 371.1,174.0 371.6,172.8 372.1,168.8 372.5,171.5 373.0,172.5 373.5,173.6 373.9,175.3 374.4,175.3 374.9,176.3 375.3,176.5 375.8,177.6 376.2,177.4 376.7,177.8 377.1,178.2 377.6,178.3 378.0,178.6 378.4,178.7 378.8,178.8 379.2,178.8 379.6,178.8 380.0,178.8 380.4,178.8 380.8,178.8 381.2,178.8 381.6,178.8 382.0,178.8 382.4,178.8 382.8,178.8 383.2,178.8 383.6,178.8 384.0,178.8 384.4,178.8 384.8,178.8 385.2,178.8 385.6,178.8 386.0,178.8 386.4,178.8 386.8,178.8 387.2,178.8 387.6,178.8 388.0,178.8 388.5,178.8 388.9,178.8 389.3,178.8 389.7,178.8 390.1,178.8 390.5,178.8 390.9,178.8 391.3,178.8 391.7,178.8 392.1,178.8 392.5,178.8 392.9,178.8 393.3,178.8 393.7,178.8 394.1,178.8 394.5,178.8 394.9,178.8 395.3,178.8 395.7,178.8 396.1,178.8 396.5,178.8 396.9,178.8 397.3,178.8 397.7,178.8 398.1,178.8 398.6,178.8 399.0,178.8 399.4,178.8 399.8,178.8 400.2,178.8 400.6,178.8 401.0,178.8 401.4,178.8 401.8,178.8 402.2,178.8 402.6,178.8 403.0,178.8 403.4,178.8 403.8,178.8 404.2,178.8 404.6,178.8 405.0,178.8 405.4,178.8 405.8,178.8 406.2,178.8 406.6,178.8 407.0,178.8 407.4,178.8 407.8,178.8 408.2,178.8 408.6,178.8 409.1,178.8 409.5,178.8 409.9,178.8 410.3,178.8 410.7,178.8 411.1,178.8 411.5,178.8 411.9,178.8 412.3,178.8 412.7,178.8 413.1,178.8 413.5,178.8 413.9,178.8 414.3,178.8 414.7,178.8 415.1,178.8 415.5,178.8 440.0,178.8 477.7,178.6 481.4,177.3 482.9,175.4 485.2,177.8 490.9,178.8 494.6,176.3 497.4,174.5 500.3,175.4 504.0,176.3 506.9,174.5 509.7,170.7 511.2,159.4 512.5,168.8 514.4,172.6 516.3,170.7 517.8,163.2 519.1,168.8 521.0,166.9 522.9,165.0 524.8,166.9 527.0,163.2" stroke="#ff1a1a" stroke-width="1.2"/>
<polyline points="316.9,149.9 317.4,151.2 317.8,155.6 318.3,155.6 318.7,145.4 319.1,142.4 319.6,151.2 320.1,151.2 320.6,151.8 321.2,140.9 321.7,135.1 322.2,125.5 322.6,131.3 323.0,141.3 323.5,133.0 323.9,138.0 324.4,119.3 324.8,117.9 325.4,114.5 325.9,99.1 326.7,106.6 327.2,132.9 327.8,133.0 328.2,143.5 328.7,140.7 329.1,142.4 329.6,139.3 330.0,139.4 330.4,129.2 330.9,123.2 331.4,130.1 331.9,117.9 332.4,136.0 332.9,125.5 333.4,120.5 333.8,95.3 334.3,105.1 334.8,106.6 335.2,110.9 335.7,127.1 336.1,121.7 336.7,128.8 337.2,129.2 337.7,122.7 338.1,121.5 338.5,116.0 339.0,135.0 339.5,133.0 340.0,136.4 340.5,142.2 341.0,136.8 341.4,138.6 341.9,149.7 342.3,142.4 342.7,136.3 343.2,128.4 343.6,125.5 344.2,115.1 344.8,104.7 345.2,115.4 345.7,91.6 346.2,88.5 346.6,76.5 347.4,74.6 348.0,98.2 348.5,99.1 349.0,98.9 349.5,84.0 349.9,84.8 350.3,86.3 350.8,76.5 351.3,72.8 351.7,61.4 352.2,97.2 352.7,78.4 353.1,103.8 353.6,89.7 354.1,110.7 354.5,95.3 355.0,101.0 355.5,85.9 356.0,108.5 356.4,101.0 356.9,103.1 357.4,114.2 357.8,127.5 358.3,125.5 358.8,117.6 359.3,117.9 359.7,126.5 360.2,129.2 360.7,130.3 361.1,133.0 361.6,141.1 362.1,148.1 362.6,147.3 363.1,150.5 363.6,151.8 364.0,152.0 364.5,157.7 364.9,155.6 365.3,159.7 365.8,158.7 366.2,154.7 366.7,159.4 367.2,155.7 367.7,157.5 368.2,161.9 368.7,161.0 369.1,160.1 369.6,159.4 370.1,161.7 370.6,162.2 371.0,166.7 371.5,166.9 372.0,169.7 372.4,168.8 372.9,170.7 373.3,173.6 373.8,173.5 374.2,174.0 374.6,175.9 375.0,176.3 375.4,176.2 375.8,176.8 376.2,177.3 376.6,177.8 377.0,177.9 377.5,178.0 377.9,178.1 378.3,178.3 378.7,178.6 379.1,178.7 379.6,178.8 380.0,178.8 380.4,178.8 380.8,178.8 381.2,178.8 381.6,178.8 382.0,178.8 382.4,178.8 382.8,178.8 383.2,178.8 383.6,178.8 384.0,178.8 384.4,178.8 384.8,178.8 385.2,178.8 385.6,178.8 386.0,178.8 386.4,178.8 386.8,178.8 387.2,178.8 387.6,178.8 388.0,178.8 388.5,178.8 388.9,178.8 389.3,178.8 389.7,178.8 390.1,178.8 390.5,178.8 390.9,178.8 391.3,178.8 391.7,178.8 392.1,178.8 392.5,178.8 392.9,178.8 393.3,178.8 393.7,178.8 394.1,178.8 394.5,178.8 394.9,178.8 395.3,178.8 395.7,178.8 396.1,178.8 396.5,178.8 396.9,178.8 397.3,178.8 397.7,178.8 398.1,178.8 398.6,178.8 399.0,178.8 399.4,178.8 399.8,178.8 400.2,178.8 400.6,178.8 401.0,178.8 401.4,178.8 401.8,178.8 402.2,178.8 402.6,178.8 403.0,178.8 403.4,178.8 403.8,178.8 404.2,178.8 404.6,178.8 405.0,178.8 405.4,178.8 405.8,178.8 406.2,178.8 406.6,178.8 407.0,178.8 407.4,178.8 407.8,178.8 408.2,178.8 408.6,178.8 409.1,178.8 409.5,178.8 409.9,178.8 410.3,178.8 410.7,178.8 411.1,178.8 411.5,178.8 411.9,178.8 412.3,178.8 412.7,178.8 413.1,178.8 413.5,178.8 413.9,178.8 414.3,178.8 414.7,178.8 415.1,178.8 415.5,178.8 440.0,178.8 505.9,178.8 510.6,178.2 511.6,172.6 512.5,178.2 517.2,177.3 518.2,173.5 519.1,176.7 522.9,176.0 527.0,175.4" stroke="#2020ff" stroke-width="1.3"/>
<polyline points="316.9,149.9 317.4,151.3 317.8,133.0 318.3,126.4 318.8,108.5 319.2,141.1 319.7,136.8 320.2,131.2 320.6,125.5 321.0,125.9 321.4,113.4 321.8,98.0 322.2,87.8 322.5,87.4 322.9,99.1 323.3,115.2 323.7,102.5 324.0,85.9 324.4,111.4 324.8,110.4 325.2,115.9 325.5,76.5 325.9,91.5 326.3,52.6 326.7,37.9 327.4,99.1 327.8,123.2 328.2,136.7 328.6,125.5 328.9,138.9 329.3,110.4 329.7,110.4 330.1,99.7 330.6,88.3 331.0,84.0 331.5,82.3 331.9,95.3 332.4,113.9 332.9,133.0 333.8,85.9 334.2,85.3 334.6,47.3 335.3,91.6 335.8,107.3 336.3,117.9 336.8,116.2 337.2,99.1 337.7,97.8 338.2,82.1 338.6,105.1 339.1,74.6 339.6,76.0 340.0,95.3 340.5,94.6 341.0,108.5 341.5,120.0 341.9,99.1 342.4,101.9 342.8,108.9 343.2,123.6 343.7,131.7 344.2,104.7 344.7,108.7 345.1,65.2 345.6,73.0 346.1,76.5 347.0,20.0 347.5,82.2 348.0,42.6 348.4,67.1 348.9,57.7 349.4,35.1 349.8,38.8 350.3,55.9 350.8,20.0 351.3,55.6 351.7,48.2 352.2,83.4 352.7,67.1 353.1,61.4 353.6,42.6 354.1,51.8 354.5,20.0 355.0,25.6 355.5,57.7 356.0,62.6 356.4,84.0 356.9,102.2 357.4,67.1 357.8,109.1 358.3,104.7 358.8,84.8 359.3,76.5 360.2,26.6 361.1,95.3 361.6,110.0 362.1,133.0 362.6,137.4 363.0,144.3 363.5,146.0 363.9,148.1 364.3,148.1 364.7,145.8 365.1,152.3 365.5,147.3 365.8,149.9 366.2,158.4 366.6,158.8 367.0,152.4 367.4,151.8 367.8,154.6 368.3,148.1 368.7,145.6 369.2,157.1 369.6,144.3 370.1,158.8 370.6,151.8 371.0,158.5 371.5,159.4 372.4,105.7 373.4,166.9 373.8,168.1 374.1,172.5 374.5,172.0 374.9,174.4 375.3,174.7 375.6,175.4 376.0,177.2 376.4,176.6 376.8,178.0 377.1,177.8 377.5,178.4 377.9,178.5 378.2,178.6 378.6,178.5 378.9,178.8 379.3,178.8 379.6,178.8 380.0,178.8 380.3,178.8 380.6,178.8 381.0,178.8 381.3,178.8 381.6,178.8 382.0,178.8 382.3,178.8 382.6,178.8 383.0,178.8 383.3,178.8 383.6,178.8 384.0,178.8 384.3,178.8 384.6,178.8 385.0,178.8 385.3,178.8 385.6,178.8 386.0,178.8 386.3,178.8 386.6,178.8 386.9,178.8 387.3,178.8 387.6,178.8 387.9,178.8 388.3,178.8 388.6,178.8 388.9,178.8 389.3,178.8 389.6,178.8 389.9,178.8 390.3,178.8 390.6,178.8 390.9,178.8 391.3,178.8 391.6,178.8 391.9,178.8 392.3,178.8 392.6,178.8 392.9,178.8 393.3,178.8 393.6,178.8 393.9,178.8 394.3,178.8 394.6,178.8 394.9,178.8 395.3,178.8 395.6,178.8 395.9,178.8 396.2,178.8 396.6,178.8 396.9,178.8 397.2,178.8 397.6,178.8 397.9,178.8 398.2,178.8 398.6,178.8 398.9,178.8 399.2,178.8 399.6,178.8 399.9,178.8 400.2,178.8 400.6,178.8 400.9,178.8 401.2,178.8 401.6,178.8 401.9,178.8 402.2,178.8 402.6,178.8 402.9,178.8 403.2,178.8 403.6,178.8 403.9,178.8 404.2,178.8 404.6,178.8 404.9,178.8 405.2,178.8 405.5,178.8 405.9,178.8 406.2,178.8 406.5,178.8 406.9,178.8 407.2,178.8 407.5,178.8 407.9,178.8 408.2,178.8 408.5,178.8 408.9,178.8 409.2,178.8 409.5,178.8 409.9,178.8 410.2,178.8 410.5,178.8 410.9,178.8 411.2,178.8 411.5,178.8 411.9,178.8 412.2,178.8 412.5,178.8 412.9,178.8 413.2,178.8 413.5,178.8 413.9,178.8 414.2,178.8 414.5,178.8 414.8,178.8 415.2,178.8 415.5,178.8 436.2,178.8 440.0,178.8 449.4,177.3 458.8,176.3 468.3,175.4 477.7,175.4 481.4,170.7 482.9,162.2 484.3,168.8 486.1,173.5 489.4,175.4 491.8,174.5 494.6,168.8 496.5,165.0 497.4,163.2 500.3,164.1 503.1,165.0 505.0,170.7 507.8,163.2 510.1,148.1 510.8,148.1 511.2,38.8 511.6,151.9 512.0,151.9 513.5,155.6 515.3,159.4 516.9,140.6 517.5,140.6 517.8,108.5 518.1,142.4 518.7,142.4 520.1,138.7 521.4,148.1 522.5,140.6 523.8,144.3 524.8,136.8 525.7,142.4 527.0,129.2" stroke="#1fb82a" stroke-width="1.1"/>
</g>
<line x1="317.00" y1="179.6" x2="317.00" y2="182.79999999999998" stroke="#000" stroke-width="1.3"/>
<line x1="317.00" y1="23.6" x2="317.00" y2="26.8" stroke="#000" stroke-width="1.3"/>
<text x="317.00" y="194.40" text-anchor="middle" class="tl">-4</text>
<line x1="334.46" y1="179.6" x2="334.46" y2="181.4" stroke="#000" stroke-width="1.3"/>
<line x1="334.46" y1="23.6" x2="334.46" y2="25.400000000000002" stroke="#000" stroke-width="1.3"/>
<line x1="351.92" y1="179.6" x2="351.92" y2="182.79999999999998" stroke="#000" stroke-width="1.3"/>
<line x1="351.92" y1="23.6" x2="351.92" y2="26.8" stroke="#000" stroke-width="1.3"/>
<text x="351.92" y="194.40" text-anchor="middle" class="tl">-2</text>
<line x1="369.38" y1="179.6" x2="369.38" y2="181.4" stroke="#000" stroke-width="1.3"/>
<line x1="369.38" y1="23.6" x2="369.38" y2="25.400000000000002" stroke="#000" stroke-width="1.3"/>
<line x1="386.83" y1="179.6" x2="386.83" y2="182.79999999999998" stroke="#000" stroke-width="1.3"/>
<line x1="386.83" y1="23.6" x2="386.83" y2="26.8" stroke="#000" stroke-width="1.3"/>
<text x="386.83" y="194.40" text-anchor="middle" class="tl">0</text>
<line x1="404.29" y1="179.6" x2="404.29" y2="181.4" stroke="#000" stroke-width="1.3"/>
<line x1="404.29" y1="23.6" x2="404.29" y2="25.400000000000002" stroke="#000" stroke-width="1.3"/>
<line x1="421.75" y1="179.6" x2="421.75" y2="182.79999999999998" stroke="#000" stroke-width="1.3"/>
<line x1="421.75" y1="23.6" x2="421.75" y2="26.8" stroke="#000" stroke-width="1.3"/>
<text x="421.75" y="194.40" text-anchor="middle" class="tl">2</text>
<line x1="439.21" y1="179.6" x2="439.21" y2="181.4" stroke="#000" stroke-width="1.3"/>
<line x1="439.21" y1="23.6" x2="439.21" y2="25.400000000000002" stroke="#000" stroke-width="1.3"/>
<line x1="456.67" y1="179.6" x2="456.67" y2="182.79999999999998" stroke="#000" stroke-width="1.3"/>
<line x1="456.67" y1="23.6" x2="456.67" y2="26.8" stroke="#000" stroke-width="1.3"/>
<text x="456.67" y="194.40" text-anchor="middle" class="tl">4</text>
<line x1="474.12" y1="179.6" x2="474.12" y2="181.4" stroke="#000" stroke-width="1.3"/>
<line x1="474.12" y1="23.6" x2="474.12" y2="25.400000000000002" stroke="#000" stroke-width="1.3"/>
<line x1="491.58" y1="179.6" x2="491.58" y2="182.79999999999998" stroke="#000" stroke-width="1.3"/>
<line x1="491.58" y1="23.6" x2="491.58" y2="26.8" stroke="#000" stroke-width="1.3"/>
<text x="491.58" y="194.40" text-anchor="middle" class="tl">6</text>
<line x1="509.04" y1="179.6" x2="509.04" y2="181.4" stroke="#000" stroke-width="1.3"/>
<line x1="509.04" y1="23.6" x2="509.04" y2="25.400000000000002" stroke="#000" stroke-width="1.3"/>
<line x1="526.50" y1="179.6" x2="526.50" y2="182.79999999999998" stroke="#000" stroke-width="1.3"/>
<line x1="526.50" y1="23.6" x2="526.50" y2="26.8" stroke="#000" stroke-width="1.3"/>
<text x="526.50" y="194.40" text-anchor="middle" class="tl">8</text>
<line x1="317" y1="179.60" x2="313.8" y2="179.60" stroke="#000" stroke-width="1.3"/>
<line x1="526.5" y1="179.60" x2="523.3" y2="179.60" stroke="#000" stroke-width="1.3"/>
<line x1="317" y1="153.60" x2="315.2" y2="153.60" stroke="#000" stroke-width="1.3"/>
<line x1="526.5" y1="153.60" x2="524.7" y2="153.60" stroke="#000" stroke-width="1.3"/>
<line x1="317" y1="127.60" x2="313.8" y2="127.60" stroke="#000" stroke-width="1.3"/>
<line x1="526.5" y1="127.60" x2="523.3" y2="127.60" stroke="#000" stroke-width="1.3"/>
<line x1="317" y1="101.60" x2="315.2" y2="101.60" stroke="#000" stroke-width="1.3"/>
<line x1="526.5" y1="101.60" x2="524.7" y2="101.60" stroke="#000" stroke-width="1.3"/>
<line x1="317" y1="75.60" x2="313.8" y2="75.60" stroke="#000" stroke-width="1.3"/>
<line x1="526.5" y1="75.60" x2="523.3" y2="75.60" stroke="#000" stroke-width="1.3"/>
<line x1="317" y1="49.60" x2="315.2" y2="49.60" stroke="#000" stroke-width="1.3"/>
<line x1="526.5" y1="49.60" x2="524.7" y2="49.60" stroke="#000" stroke-width="1.3"/>
<line x1="317" y1="23.60" x2="313.8" y2="23.60" stroke="#000" stroke-width="1.3"/>
<line x1="526.5" y1="23.60" x2="523.3" y2="23.60" stroke="#000" stroke-width="1.3"/>
<text x="312.40" y="183.60" text-anchor="end" class="tl" style="font-size:12px">0.00</text>
<text x="312.40" y="131.60" text-anchor="end" class="tl" style="font-size:12px">0.25</text>
<text x="312.40" y="79.60" text-anchor="end" class="tl" style="font-size:12px">0.50</text>
<text x="312.40" y="27.60" text-anchor="end" class="tl" style="font-size:12px">0.75</text>
<text x="421.4" y="14" text-anchor="middle" class="pt">(b)</text>
<text x="416.3" y="207.0" text-anchor="middle" class="ax">Energy (eV)</text>
<text transform="translate(281,91.4) rotate(-90)" x="0" y="4.2" text-anchor="middle" class="ax">PDOS</text>
<text x="425" y="41.6" class="lt" style="font-size:12px">Partial DOS-Zn</text>
<line x1="456.5" y1="64.3" x2="473.1" y2="64.3" stroke="#111111" stroke-width="1.3"/>
<text x="476.1" y="68.2" class="lg" style="font-size:11px">s</text>
<line x1="456.5" y1="77.5" x2="473.1" y2="77.5" stroke="#ff1a1a" stroke-width="1.3"/>
<text x="476.1" y="81.4" class="lg" style="font-size:11px">p</text>
<line x1="456.5" y1="90.4" x2="473.1" y2="90.4" stroke="#2020ff" stroke-width="1.3"/>
<text x="476.1" y="94.3" class="lg" style="font-size:11px">d</text>
<line x1="456.5" y1="103.9" x2="473.1" y2="103.9" stroke="#1fb82a" stroke-width="1.3"/>
<text x="476.1" y="107.8" class="lg" style="font-size:11px">PDOS</text>
<text x="383" y="48.00" class="ef">E</text>
<path d="M395.00,47.90 Q394.20,47.90 393.80,48.90 L391.10,53.90 Q390.70,54.70 390.00,54.70" fill="none" stroke="#1a1aff" stroke-width="1.25" stroke-linecap="round"/>
<clipPath id="cc"><rect x="39.300000000000004" y="247.6" width="205.2" height="154.29999999999998"/></clipPath>
<rect x="38.6" y="246.9" width="206.60" height="153.50" fill="none" stroke="#000" stroke-width="1.5"/>
<line x1="101.79" y1="247.70000000000002" x2="101.79" y2="400.4" stroke="#19e3f0" stroke-width="1.6" stroke-dasharray="5,5.2"/>
<g clip-path="url(#cc)" fill="none" stroke-linejoin="round">
<polyline points="38.4,398.2 40.7,397.3 43.5,398.6 47.3,397.8 51.1,399.1 54.8,398.2 56.7,399.1 64.2,399.6 73.7,399.6 106.8,399.6 112.7,399.6 160.0,399.6 193.8,399.6 202.2,398.4 205.6,399.6 210.7,399.6 217.4,398.1 222.5,399.2 225.9,399.6 229.2,398.4 232.6,398.9 237.7,398.4 242.7,397.2 245.3,396.2" stroke="#111111" stroke-width="1.0"/>
<polyline points="112.7,399.6 160.0,399.6 185.3,399.2 193.8,398.4 199.7,398.1 202.2,395.9 204.2,397.5 209.0,399.2 214.0,397.2 217.4,395.0 220.8,396.2 224.2,399.2 226.7,396.7 229.2,394.5 230.6,393.3 231.8,395.0 234.3,396.7 236.8,396.4 239.4,395.9 242.7,394.2 245.3,393.3" stroke="#ff1a1a" stroke-width="1.2"/>
<polyline points="38.4,394.7 38.8,395.3 39.1,394.2 39.4,392.9 39.8,394.1 40.1,395.6 40.5,395.5 40.9,393.7 41.3,391.2 41.6,390.6 41.9,391.5 42.2,387.6 42.5,391.4 42.8,391.1 43.2,392.9 43.5,391.4 43.8,391.0 44.1,389.4 44.4,388.1 44.7,386.6 45.0,385.8 45.4,389.0 45.7,389.2 46.0,391.2 46.3,391.0 46.6,386.4 46.9,382.2 47.2,378.6 47.6,378.4 47.9,372.4 48.2,380.3 48.5,383.2 48.8,387.6 49.1,391.0 49.4,390.4 49.7,391.2 50.1,393.0 50.4,390.0 50.7,389.4 51.0,390.9 51.3,392.1 51.7,392.4 52.0,392.9 52.3,392.2 52.7,393.2 53.0,390.3 53.3,389.4 53.6,391.2 53.9,388.8 54.2,387.9 54.5,388.7 54.8,385.8 55.2,384.0 55.6,386.2 56.0,380.4 56.3,382.3 56.7,385.8 57.1,390.2 57.5,391.2 57.8,389.4 58.2,390.4 58.6,388.8 59.0,387.6 59.4,386.9 59.7,387.9 60.1,384.0 60.4,386.4 60.8,385.2 61.1,383.9 61.4,379.5 61.7,383.7 62.1,388.8 62.4,387.6 62.7,388.1 63.1,387.1 63.5,385.8 63.9,386.9 64.2,388.1 64.6,389.4 65.0,387.3 65.4,388.5 65.8,385.8 66.1,390.0 66.4,389.9 66.7,389.4 67.0,392.2 67.4,390.6 67.7,393.1 68.0,391.2 68.4,393.2 68.8,393.6 69.1,394.7 69.5,393.2 69.9,391.0 70.3,389.4 70.7,387.4 71.0,388.7 71.4,384.0 71.7,383.1 72.0,378.3 72.3,375.0 72.7,383.8 73.0,386.2 73.3,387.6 73.6,391.0 73.9,390.0 74.2,390.3 74.5,391.2 74.9,386.6 75.2,384.0 75.5,384.8 75.8,379.8 76.1,376.8 76.4,379.3 76.7,371.6 77.1,371.5 77.4,371.3 77.7,377.9 78.0,375.0 78.3,378.8 78.6,373.6 78.9,369.7 79.3,375.1 79.6,363.6 79.9,364.3 80.3,350.9 80.6,330.3 81.0,347.1 81.4,358.9 81.8,348.1 82.1,335.7 82.5,354.0 82.9,364.3 83.3,374.4 83.6,367.9 84.0,371.5 84.3,377.5 84.7,376.0 85.0,375.0 85.3,375.1 85.6,381.9 85.9,376.8 86.2,382.3 86.5,382.8 86.8,381.3 87.2,376.8 87.5,368.6 87.8,355.4 88.7,248.0 89.7,314.2 90.0,310.0 90.3,332.8 90.6,316.0 90.9,328.8 91.2,346.2 91.6,350.0 92.5,248.0 92.8,271.1 93.1,261.5 93.4,248.0 94.4,301.7 95.5,348.2 95.9,361.6 96.3,368.3 96.6,366.1 97.6,265.9 98.5,319.6 98.9,332.7 99.3,331.4 99.7,310.6 100.0,325.7 100.3,323.4 100.6,292.8 101.0,303.9 101.3,264.1 102.3,305.3 102.7,331.7 103.0,328.9 103.4,337.5 103.8,353.2 104.2,350.0 104.5,351.5 104.9,337.4 105.3,312.4 106.1,355.4 106.8,399.6 107.2,399.6 107.6,399.6" stroke="#ff1a1a" stroke-width="0.6"/>
<polyline points="38.4,394.4 38.8,395.1 39.1,393.9 39.4,392.5 39.8,393.8 40.1,395.4 40.5,395.3 40.9,393.3 41.3,390.7 41.6,390.1 41.9,391.1 42.2,386.9 42.5,390.9 42.8,390.6 43.2,392.5 43.5,390.9 43.8,390.5 44.1,388.8 44.4,387.5 44.7,385.9 45.0,385.0 45.4,388.4 45.7,388.6 46.0,390.7 46.3,390.5 46.6,385.6 46.9,381.2 47.2,377.4 47.6,377.3 47.9,370.9 48.2,379.3 48.5,382.3 48.8,386.9 49.1,390.5 49.4,389.8 49.7,390.7 50.1,392.6 50.4,389.5 50.7,388.8 51.0,390.3 51.3,391.7 51.7,392.0 52.0,392.5 52.3,391.7 52.7,392.8 53.0,389.7 53.3,388.8 53.6,390.7 53.9,388.2 54.2,387.2 54.5,388.1 54.8,385.0 55.2,383.1 55.6,385.5 56.0,379.4 56.3,381.4 56.7,385.0 57.1,389.6 57.5,390.7 57.8,388.8 58.2,389.9 58.6,388.2 59.0,386.9 59.4,386.2 59.7,387.2 60.1,383.1 60.4,385.6 60.8,384.4 61.1,383.0 61.4,378.4 61.7,382.8 62.1,388.1 62.4,386.9 62.7,387.4 63.1,386.4 63.5,385.0 63.9,386.2 64.2,387.4 64.6,388.8 65.0,386.6 65.4,387.9 65.8,385.0 66.1,389.5 66.4,389.3 66.7,388.8 67.0,391.8 67.4,390.0 67.7,392.7 68.0,390.7 68.4,392.8 68.8,393.3 69.1,394.4 69.5,392.8 69.9,390.5 70.3,388.8 70.7,386.7 71.0,388.1 71.4,383.1 71.7,382.2 72.0,377.2 72.3,373.7 72.7,383.0 73.0,385.4 73.3,386.9 73.6,390.5 73.9,389.5 74.2,389.7 74.5,390.7 74.9,385.8 75.2,383.1 75.5,384.0 75.8,378.7 76.1,375.6 76.4,378.2 76.7,370.0 77.1,369.9 77.4,369.8 77.7,376.7 78.0,373.7 78.3,377.7 78.6,372.2 78.9,368.1 79.3,373.8 79.6,361.6 79.9,362.4 80.3,348.3 80.6,326.6 81.0,344.3 81.4,356.8 81.8,345.4 82.1,332.3 82.5,351.6 82.9,362.4 83.3,373.0 83.6,366.2 84.0,369.9 84.3,376.3 84.7,374.7 85.0,373.7 85.3,373.8 85.6,380.9 85.9,375.6 86.2,381.4 86.5,381.8 86.8,380.3 87.2,375.6 87.5,366.9 87.8,353.0 88.7,240.0 89.7,309.7 90.0,305.2 90.3,329.3 90.6,311.6 90.9,325.1 91.2,343.3 91.6,347.3 92.5,240.0 92.8,264.3 93.1,254.2 93.4,240.0 94.4,296.5 95.5,345.5 95.9,359.5 96.3,366.6 96.6,364.3 97.6,258.8 98.5,315.3 98.9,329.2 99.3,327.7 99.7,305.9 100.0,321.7 100.3,319.3 100.6,287.1 101.0,298.8 101.3,256.9 102.3,300.3 102.7,328.1 103.0,325.1 103.4,334.2 103.8,350.7 104.2,347.3 104.5,349.0 104.9,334.1 105.3,307.8 106.1,353.0 106.8,399.6 107.2,399.6 107.6,399.6 112.7,399.6 160.0,399.6 176.9,399.6 185.3,398.4 193.8,397.5 199.7,397.2 202.2,393.3 204.2,396.7 207.3,398.4 210.7,398.9 214.0,395.9 217.4,392.8 219.9,394.2 222.5,395.9 224.2,398.4 226.7,395.0 229.2,393.3 230.1,390.8 230.4,390.8 230.6,296.1 230.8,392.5 231.1,392.5 232.6,393.8 234.3,394.5 236.0,391.6 236.5,395.0 238.5,394.2 241.1,393.3 242.7,388.8 243.6,391.6 245.3,389.9" stroke="#1fb82a" stroke-width="1.1"/>
</g>
<line x1="38.60" y1="400.4" x2="38.60" y2="403.59999999999997" stroke="#000" stroke-width="1.3"/>
<line x1="38.60" y1="246.9" x2="38.60" y2="250.1" stroke="#000" stroke-width="1.3"/>
<text x="38.60" y="415.20" text-anchor="middle" class="tl">-4</text>
<line x1="55.82" y1="400.4" x2="55.82" y2="402.2" stroke="#000" stroke-width="1.3"/>
<line x1="55.82" y1="246.9" x2="55.82" y2="248.70000000000002" stroke="#000" stroke-width="1.3"/>
<line x1="73.03" y1="400.4" x2="73.03" y2="403.59999999999997" stroke="#000" stroke-width="1.3"/>
<line x1="73.03" y1="246.9" x2="73.03" y2="250.1" stroke="#000" stroke-width="1.3"/>
<text x="73.03" y="415.20" text-anchor="middle" class="tl">-2</text>
<line x1="90.25" y1="400.4" x2="90.25" y2="402.2" stroke="#000" stroke-width="1.3"/>
<line x1="90.25" y1="246.9" x2="90.25" y2="248.70000000000002" stroke="#000" stroke-width="1.3"/>
<line x1="107.47" y1="400.4" x2="107.47" y2="403.59999999999997" stroke="#000" stroke-width="1.3"/>
<line x1="107.47" y1="246.9" x2="107.47" y2="250.1" stroke="#000" stroke-width="1.3"/>
<text x="107.47" y="415.20" text-anchor="middle" class="tl">0</text>
<line x1="124.68" y1="400.4" x2="124.68" y2="402.2" stroke="#000" stroke-width="1.3"/>
<line x1="124.68" y1="246.9" x2="124.68" y2="248.70000000000002" stroke="#000" stroke-width="1.3"/>
<line x1="141.90" y1="400.4" x2="141.90" y2="403.59999999999997" stroke="#000" stroke-width="1.3"/>
<line x1="141.90" y1="246.9" x2="141.90" y2="250.1" stroke="#000" stroke-width="1.3"/>
<text x="141.90" y="415.20" text-anchor="middle" class="tl">2</text>
<line x1="159.12" y1="400.4" x2="159.12" y2="402.2" stroke="#000" stroke-width="1.3"/>
<line x1="159.12" y1="246.9" x2="159.12" y2="248.70000000000002" stroke="#000" stroke-width="1.3"/>
<line x1="176.33" y1="400.4" x2="176.33" y2="403.59999999999997" stroke="#000" stroke-width="1.3"/>
<line x1="176.33" y1="246.9" x2="176.33" y2="250.1" stroke="#000" stroke-width="1.3"/>
<text x="176.33" y="415.20" text-anchor="middle" class="tl">4</text>
<line x1="193.55" y1="400.4" x2="193.55" y2="402.2" stroke="#000" stroke-width="1.3"/>
<line x1="193.55" y1="246.9" x2="193.55" y2="248.70000000000002" stroke="#000" stroke-width="1.3"/>
<line x1="210.77" y1="400.4" x2="210.77" y2="403.59999999999997" stroke="#000" stroke-width="1.3"/>
<line x1="210.77" y1="246.9" x2="210.77" y2="250.1" stroke="#000" stroke-width="1.3"/>
<text x="210.77" y="415.20" text-anchor="middle" class="tl">6</text>
<line x1="227.98" y1="400.4" x2="227.98" y2="402.2" stroke="#000" stroke-width="1.3"/>
<line x1="227.98" y1="246.9" x2="227.98" y2="248.70000000000002" stroke="#000" stroke-width="1.3"/>
<line x1="245.20" y1="400.4" x2="245.20" y2="403.59999999999997" stroke="#000" stroke-width="1.3"/>
<line x1="245.20" y1="246.9" x2="245.20" y2="250.1" stroke="#000" stroke-width="1.3"/>
<text x="245.20" y="415.20" text-anchor="middle" class="tl">8</text>
<line x1="38.6" y1="400.40" x2="35.4" y2="400.40" stroke="#000" stroke-width="1.3"/>
<line x1="245.2" y1="400.40" x2="242.0" y2="400.40" stroke="#000" stroke-width="1.3"/>
<line x1="38.6" y1="381.21" x2="36.800000000000004" y2="381.21" stroke="#000" stroke-width="1.3"/>
<line x1="245.2" y1="381.21" x2="243.39999999999998" y2="381.21" stroke="#000" stroke-width="1.3"/>
<line x1="38.6" y1="362.02" x2="35.4" y2="362.02" stroke="#000" stroke-width="1.3"/>
<line x1="245.2" y1="362.02" x2="242.0" y2="362.02" stroke="#000" stroke-width="1.3"/>
<line x1="38.6" y1="342.84" x2="36.800000000000004" y2="342.84" stroke="#000" stroke-width="1.3"/>
<line x1="245.2" y1="342.84" x2="243.39999999999998" y2="342.84" stroke="#000" stroke-width="1.3"/>
<line x1="38.6" y1="323.65" x2="35.4" y2="323.65" stroke="#000" stroke-width="1.3"/>
<line x1="245.2" y1="323.65" x2="242.0" y2="323.65" stroke="#000" stroke-width="1.3"/>
<line x1="38.6" y1="304.46" x2="36.800000000000004" y2="304.46" stroke="#000" stroke-width="1.3"/>
<line x1="245.2" y1="304.46" x2="243.39999999999998" y2="304.46" stroke="#000" stroke-width="1.3"/>
<line x1="38.6" y1="285.27" x2="35.4" y2="285.27" stroke="#000" stroke-width="1.3"/>
<line x1="245.2" y1="285.27" x2="242.0" y2="285.27" stroke="#000" stroke-width="1.3"/>
<line x1="38.6" y1="266.09" x2="36.800000000000004" y2="266.09" stroke="#000" stroke-width="1.3"/>
<line x1="245.2" y1="266.09" x2="243.39999999999998" y2="266.09" stroke="#000" stroke-width="1.3"/>
<line x1="38.6" y1="246.90" x2="35.4" y2="246.90" stroke="#000" stroke-width="1.3"/>
<line x1="245.2" y1="246.90" x2="242.0" y2="246.90" stroke="#000" stroke-width="1.3"/>
<text x="34.00" y="403.50" text-anchor="end" class="tl" style="font-size:12px">0.0</text>
<text x="34.00" y="365.12" text-anchor="end" class="tl" style="font-size:12px">0.5</text>
<text x="34.00" y="326.75" text-anchor="end" class="tl" style="font-size:12px">1.0</text>
<text x="34.00" y="288.38" text-anchor="end" class="tl" style="font-size:12px">1.5</text>
<text x="34.00" y="250.00" text-anchor="end" class="tl" style="font-size:12px">2.0</text>
<text x="136.9" y="240.5" text-anchor="middle" class="pt">(c)</text>
<text x="136.4" y="427.5" text-anchor="middle" class="ax">Energy (eV)</text>
<text transform="translate(9.2,313.8) rotate(-90)" x="0" y="4.2" text-anchor="middle" class="ax">PDOS</text>
<text x="162.6" y="273.1" class="lt" style="font-size:12px">Partial DOS-N</text>
<line x1="179.8" y1="288.9" x2="196.2" y2="288.9" stroke="#111111" stroke-width="1.3"/>
<text x="199" y="292.8" class="lg" style="font-size:11px">s</text>
<line x1="179.8" y1="301.8" x2="196.2" y2="301.8" stroke="#ff1a1a" stroke-width="1.3"/>
<text x="199" y="305.7" class="lg" style="font-size:11px">p</text>
<line x1="179.8" y1="314.7" x2="196.2" y2="314.7" stroke="#1fb82a" stroke-width="1.3"/>
<text x="199" y="318.6" class="lg" style="font-size:11px">PDOS</text>
<text x="102.3" y="270.50" class="ef">E</text>
<path d="M114.30,270.40 Q113.50,270.40 113.10,271.40 L110.40,276.40 Q110.00,277.20 109.30,277.20" fill="none" stroke="#1a1aff" stroke-width="1.25" stroke-linecap="round"/>
<clipPath id="cd"><rect x="323.2" y="247.39999999999998" width="204.49999999999997" height="154.8"/></clipPath>
<rect x="322.5" y="246.7" width="205.90" height="154.00" fill="none" stroke="#000" stroke-width="1.5"/>
<line x1="385.47" y1="247.5" x2="385.47" y2="400.7" stroke="#19e3f0" stroke-width="1.6" stroke-dasharray="5,5.2"/>
<g clip-path="url(#cd)" fill="none" stroke-linejoin="round">
<polygon points="323.6,247.5 329.4,247.5 328.6,262.0 327.2,277.0 324.3,277.0" fill="#ffa0a0" stroke="none"/>
<polyline points="322.4,371.8 323.4,360.5 324.1,375.6 325.1,364.3 325.6,394.4 326.6,371.8 327.5,360.5 328.5,375.6 329.4,371.8 330.4,353.0 331.3,330.4 332.2,337.9 333.2,368.1 334.1,371.8 335.1,379.4 336.0,375.6 336.9,383.1 337.9,386.9 338.8,362.4 340.2,312.5 341.1,362.4 342.0,385.0 343.0,383.1 343.9,375.6 344.9,386.9 345.8,375.6 346.7,392.5 348.2,390.7 349.6,383.1 350.5,373.7 351.6,385.0 353.0,390.7 354.3,388.8 355.8,392.5 357.1,388.8 358.2,394.4 359.5,388.8 360.5,392.5 361.8,390.7 362.9,395.4 364.3,393.5 365.2,394.4 366.7,393.5 368.0,396.3 369.3,397.3 370.8,398.2 372.4,395.4 373.3,393.5 374.6,396.3 376.1,395.4 377.4,395.9 379.3,396.7 381.2,396.7 383.1,397.3 385.0,398.2 387.8,399.7 391.2,399.9 392.3,399.9 440.4,399.9 443.2,399.1 446.0,396.3 448.8,391.6 451.7,388.8 453.5,388.8 455.4,390.7 458.2,389.7 461.1,388.8 463.9,387.8 466.7,385.0 469.5,383.1 471.4,384.1 473.7,381.2 476.1,382.2 478.6,384.1 480.8,385.0 482.7,371.8 484.6,353.0 485.7,341.7 486.9,356.8 488.4,375.6 490.3,381.2 492.1,386.9 493.7,390.7 495.0,385.0 496.3,383.1 497.8,362.4 499.3,353.0 500.6,347.3 501.9,356.8 503.4,360.5 505.3,368.1 506.8,375.6 507.8,383.1 508.7,375.6 510.0,373.7 511.0,375.6 511.9,353.0 512.9,319.1 513.6,259.8 514.4,324.7 515.1,353.0 516.6,356.8 518.1,358.6 519.5,354.9 520.4,351.1 521.3,360.5 522.7,364.3 524.2,366.2 525.1,356.8 526.0,337.9 527.0,268.2 527.9,277.7 528.3,281.4" stroke="#111111" stroke-width="1.0"/>
<polyline points="322.4,230.6 322.6,277.7 322.8,289.0 323.4,268.2 323.8,302.1 324.1,277.7 324.5,290.8 324.9,268.2 325.3,317.2 325.6,277.7 326.0,240.0 327.5,240.0 328.3,258.8 328.7,277.7 329.4,301.2 329.8,268.2 330.2,240.0 332.2,240.0 332.8,258.8 333.2,284.3 333.6,258.8 334.1,240.0 337.5,240.0 337.9,258.8 338.1,274.8 338.3,258.8 338.6,240.0 353.0,240.0 353.3,258.8 353.5,280.5 353.9,258.8 354.3,240.0 390.8,240.0 390.9,399.9 392.3,399.9 440.4,399.9 443.2,398.2 446.0,395.4 448.8,392.5 451.7,389.7 454.5,389.7 457.3,388.8 460.1,386.9 463.0,386.0 465.8,382.2 467.7,375.6 469.5,369.9 471.4,366.2 473.7,357.7 476.1,358.3 478.6,359.0 480.8,358.6 482.7,351.1 484.2,332.3 485.6,302.1 486.5,324.7 488.0,353.0 489.9,366.2 491.8,377.5 493.7,383.1 495.0,356.8 495.9,364.3 497.4,353.0 498.7,330.4 500.1,302.1 501.2,292.7 502.5,305.9 503.8,311.6 505.3,321.0 506.8,345.5 507.8,366.2 509.1,334.2 510.6,307.8 511.9,319.1 513.1,277.7 514.0,240.0 514.7,268.2 515.7,296.5 516.6,319.1 518.1,324.7 519.5,349.2 520.0,261.7 520.8,345.5 521.9,337.9 523.2,319.1 524.2,311.6 525.1,302.1 526.0,305.9 527.0,287.1 528.3,268.2" stroke="#ff1a1a" stroke-width="1.0"/>
</g>
<line x1="322.50" y1="400.7" x2="322.50" y2="403.9" stroke="#000" stroke-width="1.3"/>
<line x1="322.50" y1="246.7" x2="322.50" y2="249.89999999999998" stroke="#000" stroke-width="1.3"/>
<text x="322.50" y="415.50" text-anchor="middle" class="tl">-4</text>
<line x1="339.66" y1="400.7" x2="339.66" y2="402.5" stroke="#000" stroke-width="1.3"/>
<line x1="339.66" y1="246.7" x2="339.66" y2="248.5" stroke="#000" stroke-width="1.3"/>
<line x1="356.82" y1="400.7" x2="356.82" y2="403.9" stroke="#000" stroke-width="1.3"/>
<line x1="356.82" y1="246.7" x2="356.82" y2="249.89999999999998" stroke="#000" stroke-width="1.3"/>
<text x="356.82" y="415.50" text-anchor="middle" class="tl">-2</text>
<line x1="373.98" y1="400.7" x2="373.98" y2="402.5" stroke="#000" stroke-width="1.3"/>
<line x1="373.98" y1="246.7" x2="373.98" y2="248.5" stroke="#000" stroke-width="1.3"/>
<line x1="391.13" y1="400.7" x2="391.13" y2="403.9" stroke="#000" stroke-width="1.3"/>
<line x1="391.13" y1="246.7" x2="391.13" y2="249.89999999999998" stroke="#000" stroke-width="1.3"/>
<text x="391.13" y="415.50" text-anchor="middle" class="tl">0</text>
<line x1="408.29" y1="400.7" x2="408.29" y2="402.5" stroke="#000" stroke-width="1.3"/>
<line x1="408.29" y1="246.7" x2="408.29" y2="248.5" stroke="#000" stroke-width="1.3"/>
<line x1="425.45" y1="400.7" x2="425.45" y2="403.9" stroke="#000" stroke-width="1.3"/>
<line x1="425.45" y1="246.7" x2="425.45" y2="249.89999999999998" stroke="#000" stroke-width="1.3"/>
<text x="425.45" y="415.50" text-anchor="middle" class="tl">2</text>
<line x1="442.61" y1="400.7" x2="442.61" y2="402.5" stroke="#000" stroke-width="1.3"/>
<line x1="442.61" y1="246.7" x2="442.61" y2="248.5" stroke="#000" stroke-width="1.3"/>
<line x1="459.77" y1="400.7" x2="459.77" y2="403.9" stroke="#000" stroke-width="1.3"/>
<line x1="459.77" y1="246.7" x2="459.77" y2="249.89999999999998" stroke="#000" stroke-width="1.3"/>
<text x="459.77" y="415.50" text-anchor="middle" class="tl">4</text>
<line x1="476.92" y1="400.7" x2="476.92" y2="402.5" stroke="#000" stroke-width="1.3"/>
<line x1="476.92" y1="246.7" x2="476.92" y2="248.5" stroke="#000" stroke-width="1.3"/>
<line x1="494.08" y1="400.7" x2="494.08" y2="403.9" stroke="#000" stroke-width="1.3"/>
<line x1="494.08" y1="246.7" x2="494.08" y2="249.89999999999998" stroke="#000" stroke-width="1.3"/>
<text x="494.08" y="415.50" text-anchor="middle" class="tl">6</text>
<line x1="511.24" y1="400.7" x2="511.24" y2="402.5" stroke="#000" stroke-width="1.3"/>
<line x1="511.24" y1="246.7" x2="511.24" y2="248.5" stroke="#000" stroke-width="1.3"/>
<line x1="528.40" y1="400.7" x2="528.40" y2="403.9" stroke="#000" stroke-width="1.3"/>
<line x1="528.40" y1="246.7" x2="528.40" y2="249.89999999999998" stroke="#000" stroke-width="1.3"/>
<text x="528.40" y="415.50" text-anchor="middle" class="tl">8</text>
<line x1="322.5" y1="400.70" x2="319.3" y2="400.70" stroke="#000" stroke-width="1.3"/>
<line x1="528.4" y1="400.70" x2="525.1999999999999" y2="400.70" stroke="#000" stroke-width="1.3"/>
<line x1="322.5" y1="385.30" x2="320.7" y2="385.30" stroke="#000" stroke-width="1.3"/>
<line x1="528.4" y1="385.30" x2="526.6" y2="385.30" stroke="#000" stroke-width="1.3"/>
<line x1="322.5" y1="369.90" x2="319.3" y2="369.90" stroke="#000" stroke-width="1.3"/>
<line x1="528.4" y1="369.90" x2="525.1999999999999" y2="369.90" stroke="#000" stroke-width="1.3"/>
<line x1="322.5" y1="354.50" x2="320.7" y2="354.50" stroke="#000" stroke-width="1.3"/>
<line x1="528.4" y1="354.50" x2="526.6" y2="354.50" stroke="#000" stroke-width="1.3"/>
<line x1="322.5" y1="339.10" x2="319.3" y2="339.10" stroke="#000" stroke-width="1.3"/>
<line x1="528.4" y1="339.10" x2="525.1999999999999" y2="339.10" stroke="#000" stroke-width="1.3"/>
<line x1="322.5" y1="323.70" x2="320.7" y2="323.70" stroke="#000" stroke-width="1.3"/>
<line x1="528.4" y1="323.70" x2="526.6" y2="323.70" stroke="#000" stroke-width="1.3"/>
<line x1="322.5" y1="308.30" x2="319.3" y2="308.30" stroke="#000" stroke-width="1.3"/>
<line x1="528.4" y1="308.30" x2="525.1999999999999" y2="308.30" stroke="#000" stroke-width="1.3"/>
<line x1="322.5" y1="292.90" x2="320.7" y2="292.90" stroke="#000" stroke-width="1.3"/>
<line x1="528.4" y1="292.90" x2="526.6" y2="292.90" stroke="#000" stroke-width="1.3"/>
<line x1="322.5" y1="277.50" x2="319.3" y2="277.50" stroke="#000" stroke-width="1.3"/>
<line x1="528.4" y1="277.50" x2="525.1999999999999" y2="277.50" stroke="#000" stroke-width="1.3"/>
<line x1="322.5" y1="262.10" x2="320.7" y2="262.10" stroke="#000" stroke-width="1.3"/>
<line x1="528.4" y1="262.10" x2="526.6" y2="262.10" stroke="#000" stroke-width="1.3"/>
<line x1="322.5" y1="246.70" x2="319.3" y2="246.70" stroke="#000" stroke-width="1.3"/>
<line x1="528.4" y1="246.70" x2="525.1999999999999" y2="246.70" stroke="#000" stroke-width="1.3"/>
<text x="317.90" y="403.80" text-anchor="end" class="tl" style="font-size:12px">0.00</text>
<text x="317.90" y="373.00" text-anchor="end" class="tl" style="font-size:12px">0.02</text>
<text x="317.90" y="342.20" text-anchor="end" class="tl" style="font-size:12px">0.04</text>
<text x="317.90" y="311.40" text-anchor="end" class="tl" style="font-size:12px">0.06</text>
<text x="317.90" y="280.60" text-anchor="end" class="tl" style="font-size:12px">0.08</text>
<text x="317.90" y="249.80" text-anchor="end" class="tl" style="font-size:12px">0.10</text>
<text x="421.7" y="239.5" text-anchor="middle" class="pt">(d)</text>
<text x="419.9" y="427.9" text-anchor="middle" class="ax">Energy (eV)</text>
<text transform="translate(286.9,313.7) rotate(-90)" x="0" y="4.2" text-anchor="middle" class="ax">PDOS</text>
<text x="416.5" y="263.8" class="lt" style="font-size:12px">Projected DOS-N</text>
<line x1="415" y1="280.8" x2="440.8" y2="280.8" stroke="#111111" stroke-width="1.3"/>
<text x="444.6" y="284.7" class="lg" style="font-size:11px">s</text>
<line x1="415" y1="296" x2="440.8" y2="296" stroke="#ff1a1a" stroke-width="1.3"/>
<text x="444.6" y="299.9" class="lg" style="font-size:11px">p</text>
<text x="377.6" y="415.20" class="ef">E</text>
<path d="M389.60,415.10 Q388.80,415.10 388.40,416.10 L385.70,421.10 Q385.30,421.90 384.60,421.90" fill="none" stroke="#1a1aff" stroke-width="1.25" stroke-linecap="round"/>
<clipPath id="ce"><rect x="40.400000000000006" y="465.4" width="212.1" height="159.89999999999998"/></clipPath>
<rect x="39.7" y="464.7" width="213.50" height="159.10" fill="none" stroke="#000" stroke-width="1.5"/>
<line x1="105.00" y1="465.5" x2="105.00" y2="623.8" stroke="#19e3f0" stroke-width="1.6" stroke-dasharray="5,5.2"/>
<g clip-path="url(#ce)" fill="none" stroke-linejoin="round">
<polyline points="39.8,623.0 44.5,622.7 48.3,623.0 52.1,622.5 55.8,623.0 61.5,622.7 67.1,623.0 74.7,622.7 80.3,623.0 110.8,623.0 114.3,623.0 165.0,623.0 200.5,622.9 208.6,620.6 210.6,622.3 215.7,623.0 224.1,620.9 231.7,622.6 236.8,617.5 237.9,615.9 239.3,618.4 241.8,619.2 245.2,620.1 249.4,619.2 252.5,617.5" stroke="#111111" stroke-width="1.0"/>
<polyline points="114.3,623.0 165.0,623.0 190.3,622.6 200.5,621.3 206.4,620.1 208.6,618.4 210.6,620.1 215.7,622.6 219.9,620.1 224.1,617.5 227.5,618.4 231.7,620.9 235.1,617.5 237.3,612.5 237.9,609.9 239.3,615.0 241.8,617.5 243.5,615.9 245.2,617.5 247.7,616.7 250.3,615.0 252.5,614.2" stroke="#ff1a1a" stroke-width="1.2"/>
<polyline points="39.8,581.2 40.1,584.1 40.5,588.5 40.8,590.4 41.1,587.4 41.4,574.4 41.7,566.3 42.0,585.5 42.3,585.9 42.6,592.3 43.0,593.3 43.3,592.7 43.6,596.0 43.9,594.6 44.2,583.1 44.5,566.3 44.8,572.7 45.2,568.2 45.5,551.5 45.8,561.9 46.1,548.1 46.4,546.9 47.0,584.9 47.3,584.0 47.6,569.0 47.9,549.6 48.3,551.5 48.7,527.4 49.2,547.8 49.8,492.1 50.6,573.8 51.1,584.9 51.4,586.2 51.8,582.1 52.1,568.2 52.4,571.9 52.7,558.3 53.0,558.9 53.3,564.9 53.6,553.4 53.9,536.7 54.9,486.6 55.8,557.1 56.6,512.5 57.0,541.4 57.3,551.5 57.7,562.3 58.1,558.9 58.4,552.9 58.7,553.6 59.0,555.2 59.3,566.8 59.7,565.1 60.0,560.8 60.4,567.1 60.7,553.9 61.1,549.6 61.4,541.1 61.7,543.7 62.0,536.7 62.4,534.6 62.7,542.7 63.0,527.4 63.9,474.5 64.2,487.7 64.6,521.3 64.9,505.1 65.2,528.9 65.6,536.7 65.9,544.6 66.3,563.1 66.6,551.5 67.1,527.4 67.4,539.0 67.8,540.8 68.1,518.1 68.4,519.6 68.7,527.6 69.0,532.9 69.3,530.8 69.6,510.0 70.0,497.7 70.3,509.0 70.6,520.6 70.9,492.1 71.2,507.3 71.5,518.1 71.8,518.1 72.2,531.1 72.5,505.2 72.8,499.6 73.1,488.4 73.4,501.8 73.7,490.3 74.0,487.9 74.4,527.8 74.7,505.1 75.0,513.2 75.3,530.6 75.6,544.1 75.9,547.0 76.2,539.6 76.5,521.8 76.9,536.6 77.2,526.7 77.5,532.9 77.8,536.5 78.1,517.6 78.4,514.4 79.2,462.5 79.9,527.4 80.3,562.1 80.7,566.3 81.0,583.8 81.3,581.9 81.6,581.2 81.9,580.8 82.3,584.6 82.6,579.3 83.0,596.3 83.3,610.9 83.7,605.2 84.1,596.0 84.4,599.5 84.7,604.0 85.0,609.0 85.6,594.2 86.0,604.9 86.3,612.7 86.7,615.6 87.1,618.7 87.5,620.1 87.8,620.5 88.1,621.6 88.5,621.9 88.8,622.0 89.1,621.2 89.4,621.0 89.8,619.0 90.1,618.3 90.4,617.4 90.7,617.0 91.0,615.3 91.3,612.4 91.6,610.9 91.9,613.1 92.2,612.3 92.5,614.4 92.8,616.9 93.1,616.4 93.5,617.2 93.8,617.7 94.1,619.1 94.4,618.3 94.8,616.8 95.1,614.2 95.4,609.9 95.8,607.1 96.1,604.6 96.5,594.2 96.9,607.1 97.3,616.4 97.6,617.5 97.9,618.8 98.2,618.2 98.5,619.1 98.8,620.0 99.1,620.1 100.5,560.8 100.8,576.3 101.2,585.7 101.6,592.3 101.9,593.3 102.2,588.4 102.5,577.5 102.9,573.1 103.2,571.6 103.5,578.9 103.9,562.6 104.2,559.7 104.5,546.8 104.8,542.2 105.1,555.6 105.4,572.5 105.7,568.2 106.1,572.0 106.4,577.3 106.7,583.7 107.1,588.6 107.4,588.0 107.8,581.1 108.2,579.3 108.5,585.3 108.8,592.9 109.1,596.0 109.4,604.0 109.8,614.1 110.1,622.0 110.8,623.0" stroke="#ff1a1a" stroke-width="0.6"/>
<polyline points="39.8,580.5 40.1,583.5 40.5,588.0 40.8,589.9 41.1,586.9 41.4,573.7 41.7,565.5 42.0,584.9 42.3,585.3 42.6,591.8 43.0,592.9 43.3,592.2 43.6,595.6 43.9,594.2 44.2,582.5 44.5,565.5 44.8,571.9 45.2,567.3 45.5,550.4 45.8,560.9 46.1,546.9 46.4,545.7 47.0,584.3 47.3,583.4 47.6,568.2 47.9,548.5 48.3,550.4 48.7,525.9 49.2,546.6 49.8,490.1 50.6,573.0 51.1,584.3 51.4,585.6 51.8,581.5 52.1,567.3 52.4,571.1 52.7,557.3 53.0,557.9 53.3,564.0 53.6,552.3 53.9,535.3 54.9,484.5 55.8,556.0 56.6,510.8 57.0,540.1 57.3,550.4 57.7,561.3 58.1,557.9 58.4,551.9 58.7,552.5 59.0,554.2 59.3,565.9 59.7,564.2 60.0,559.8 60.4,566.2 60.7,552.8 61.1,548.5 61.4,539.9 61.7,542.4 62.0,535.3 62.4,533.2 62.7,541.5 63.0,525.9 63.9,472.2 64.2,485.7 64.6,519.7 64.9,503.3 65.2,527.5 65.6,535.3 65.9,543.4 66.3,562.2 66.6,550.4 67.1,525.9 67.4,537.7 67.8,539.5 68.1,516.5 68.4,518.0 68.7,526.2 69.0,531.6 69.3,529.4 69.6,508.3 70.0,495.8 70.3,507.3 70.6,519.1 70.9,490.1 71.2,505.5 71.5,516.5 71.8,516.5 72.2,529.7 72.5,503.4 72.8,497.7 73.1,486.3 73.4,500.0 73.7,488.2 74.0,485.9 74.4,526.3 74.7,503.3 75.0,511.5 75.3,529.1 75.6,542.9 75.9,545.8 76.2,538.3 76.5,520.3 76.9,535.3 77.2,525.2 77.5,531.6 77.8,535.2 78.1,516.0 78.4,512.7 79.2,460.0 79.9,525.9 80.3,561.1 80.7,565.5 81.0,583.2 81.3,581.3 81.6,580.5 81.9,580.1 82.3,584.0 82.6,578.6 83.0,595.9 83.3,610.7 83.7,604.9 84.1,595.6 84.4,599.1 84.7,603.7 85.0,608.8 85.6,593.7 86.0,604.6 86.3,612.5 86.7,615.5 87.1,618.6 87.5,620.1 87.8,620.5 88.1,621.5 88.5,621.9 88.8,622.0 89.1,621.2 89.4,621.0 89.8,618.9 90.1,618.2 90.4,617.4 90.7,616.9 91.0,615.2 91.3,612.3 91.6,610.7 91.9,612.9 92.2,612.1 92.5,614.3 92.8,616.8 93.1,616.3 93.5,617.1 93.8,617.6 94.1,619.0 94.4,618.2 94.8,616.7 95.1,614.0 95.4,609.7 95.8,606.9 96.1,604.4 96.5,593.7 96.9,606.8 97.3,616.3 97.6,617.4 97.9,618.8 98.2,618.1 98.5,619.1 98.8,619.9 99.1,620.1 100.5,559.8 100.8,575.5 101.2,585.2 101.6,591.8 101.9,592.9 102.2,587.8 102.5,576.8 102.9,572.3 103.2,570.8 103.5,578.2 103.9,561.7 104.2,558.7 104.5,545.6 104.8,541.0 105.1,554.6 105.4,571.7 105.7,567.3 106.1,571.3 106.4,576.6 106.7,583.1 107.1,588.1 107.4,587.4 107.8,580.4 108.2,578.6 108.5,584.7 108.8,592.4 109.1,595.6 109.4,603.7 109.8,614.0 110.1,622.0 110.8,623.0 114.3,623.0 165.0,623.0 181.9,622.6 190.3,621.8 196.2,620.1 200.5,620.1 206.4,618.4 208.6,614.2 210.3,617.5 213.1,620.1 216.5,620.9 219.9,617.5 224.1,612.5 226.6,614.2 229.2,615.0 231.7,619.2 234.2,614.2 235.9,610.8 237.3,607.4 237.8,607.4 237.9,542.4 238.1,609.1 238.6,609.1 240.1,612.5 241.8,613.3 243.0,610.8 243.9,610.8 244.0,588.5 244.2,614.2 244.7,614.2 246.1,615.0 247.7,613.3 249.4,613.3 251.1,610.8 252.5,612.5" stroke="#1fb82a" stroke-width="1.1"/>
</g>
<line x1="39.70" y1="623.8" x2="39.70" y2="627.0" stroke="#000" stroke-width="1.3"/>
<line x1="39.70" y1="464.7" x2="39.70" y2="467.9" stroke="#000" stroke-width="1.3"/>
<text x="39.70" y="638.60" text-anchor="middle" class="tl">-4</text>
<line x1="57.49" y1="623.8" x2="57.49" y2="625.5999999999999" stroke="#000" stroke-width="1.3"/>
<line x1="57.49" y1="464.7" x2="57.49" y2="466.5" stroke="#000" stroke-width="1.3"/>
<line x1="75.28" y1="623.8" x2="75.28" y2="627.0" stroke="#000" stroke-width="1.3"/>
<line x1="75.28" y1="464.7" x2="75.28" y2="467.9" stroke="#000" stroke-width="1.3"/>
<text x="75.28" y="638.60" text-anchor="middle" class="tl">-2</text>
<line x1="93.08" y1="623.8" x2="93.08" y2="625.5999999999999" stroke="#000" stroke-width="1.3"/>
<line x1="93.08" y1="464.7" x2="93.08" y2="466.5" stroke="#000" stroke-width="1.3"/>
<line x1="110.87" y1="623.8" x2="110.87" y2="627.0" stroke="#000" stroke-width="1.3"/>
<line x1="110.87" y1="464.7" x2="110.87" y2="467.9" stroke="#000" stroke-width="1.3"/>
<text x="110.87" y="638.60" text-anchor="middle" class="tl">0</text>
<line x1="128.66" y1="623.8" x2="128.66" y2="625.5999999999999" stroke="#000" stroke-width="1.3"/>
<line x1="128.66" y1="464.7" x2="128.66" y2="466.5" stroke="#000" stroke-width="1.3"/>
<line x1="146.45" y1="623.8" x2="146.45" y2="627.0" stroke="#000" stroke-width="1.3"/>
<line x1="146.45" y1="464.7" x2="146.45" y2="467.9" stroke="#000" stroke-width="1.3"/>
<text x="146.45" y="638.60" text-anchor="middle" class="tl">2</text>
<line x1="164.24" y1="623.8" x2="164.24" y2="625.5999999999999" stroke="#000" stroke-width="1.3"/>
<line x1="164.24" y1="464.7" x2="164.24" y2="466.5" stroke="#000" stroke-width="1.3"/>
<line x1="182.03" y1="623.8" x2="182.03" y2="627.0" stroke="#000" stroke-width="1.3"/>
<line x1="182.03" y1="464.7" x2="182.03" y2="467.9" stroke="#000" stroke-width="1.3"/>
<text x="182.03" y="638.60" text-anchor="middle" class="tl">4</text>
<line x1="199.82" y1="623.8" x2="199.82" y2="625.5999999999999" stroke="#000" stroke-width="1.3"/>
<line x1="199.82" y1="464.7" x2="199.82" y2="466.5" stroke="#000" stroke-width="1.3"/>
<line x1="217.62" y1="623.8" x2="217.62" y2="627.0" stroke="#000" stroke-width="1.3"/>
<line x1="217.62" y1="464.7" x2="217.62" y2="467.9" stroke="#000" stroke-width="1.3"/>
<text x="217.62" y="638.60" text-anchor="middle" class="tl">6</text>
<line x1="235.41" y1="623.8" x2="235.41" y2="625.5999999999999" stroke="#000" stroke-width="1.3"/>
<line x1="235.41" y1="464.7" x2="235.41" y2="466.5" stroke="#000" stroke-width="1.3"/>
<line x1="253.20" y1="623.8" x2="253.20" y2="627.0" stroke="#000" stroke-width="1.3"/>
<line x1="253.20" y1="464.7" x2="253.20" y2="467.9" stroke="#000" stroke-width="1.3"/>
<text x="253.20" y="638.60" text-anchor="middle" class="tl">8</text>
<line x1="39.7" y1="623.80" x2="36.5" y2="623.80" stroke="#000" stroke-width="1.3"/>
<line x1="253.2" y1="623.80" x2="250.0" y2="623.80" stroke="#000" stroke-width="1.3"/>
<line x1="39.7" y1="597.28" x2="37.900000000000006" y2="597.28" stroke="#000" stroke-width="1.3"/>
<line x1="253.2" y1="597.28" x2="251.39999999999998" y2="597.28" stroke="#000" stroke-width="1.3"/>
<line x1="39.7" y1="570.77" x2="36.5" y2="570.77" stroke="#000" stroke-width="1.3"/>
<line x1="253.2" y1="570.77" x2="250.0" y2="570.77" stroke="#000" stroke-width="1.3"/>
<line x1="39.7" y1="544.25" x2="37.900000000000006" y2="544.25" stroke="#000" stroke-width="1.3"/>
<line x1="253.2" y1="544.25" x2="251.39999999999998" y2="544.25" stroke="#000" stroke-width="1.3"/>
<line x1="39.7" y1="517.73" x2="36.5" y2="517.73" stroke="#000" stroke-width="1.3"/>
<line x1="253.2" y1="517.73" x2="250.0" y2="517.73" stroke="#000" stroke-width="1.3"/>
<line x1="39.7" y1="491.22" x2="37.900000000000006" y2="491.22" stroke="#000" stroke-width="1.3"/>
<line x1="253.2" y1="491.22" x2="251.39999999999998" y2="491.22" stroke="#000" stroke-width="1.3"/>
<line x1="39.7" y1="464.70" x2="36.5" y2="464.70" stroke="#000" stroke-width="1.3"/>
<line x1="253.2" y1="464.70" x2="250.0" y2="464.70" stroke="#000" stroke-width="1.3"/>
<text x="35.10" y="627.30" text-anchor="end" class="tl" style="font-size:12px">0.0</text>
<text x="35.10" y="574.27" text-anchor="end" class="tl" style="font-size:12px">0.5</text>
<text x="35.10" y="521.23" text-anchor="end" class="tl" style="font-size:12px">1.0</text>
<text x="35.10" y="468.20" text-anchor="end" class="tl" style="font-size:12px">1.5</text>
<text x="139.2" y="458" text-anchor="middle" class="pt">(e)</text>
<text x="140.9" y="651.5" text-anchor="middle" class="ax">Energy (eV)</text>
<text transform="translate(9.5,534) rotate(-90)" x="0" y="4.2" text-anchor="middle" class="ax">PDOS</text>
<text x="167.5" y="491.9" class="lt" style="font-size:12.35px">Partial DOS-O</text>
<line x1="185.8" y1="508.3" x2="202.8" y2="508.3" stroke="#111111" stroke-width="1.3"/>
<text x="205.3" y="511.5" class="lg" style="font-size:11px">s</text>
<line x1="185.8" y1="521.8" x2="202.8" y2="521.8" stroke="#ff1a1a" stroke-width="1.3"/>
<text x="205.3" y="525.0" class="lg" style="font-size:11px">p</text>
<line x1="185.8" y1="534.7" x2="202.8" y2="534.7" stroke="#1fb82a" stroke-width="1.3"/>
<text x="205.3" y="537.9" class="lg" style="font-size:11px">PDOS</text>
<text x="106.3" y="489.00" class="ef">E</text>
<path d="M118.30,488.90 Q117.50,488.90 117.10,489.90 L114.40,494.90 Q114.00,495.70 113.30,495.70" fill="none" stroke="#1a1aff" stroke-width="1.25" stroke-linecap="round"/>
<clipPath id="cf"><rect x="314.59999999999997" y="465.3" width="211.99999999999997" height="160.2"/></clipPath>
<rect x="313.9" y="464.6" width="213.40" height="159.40" fill="none" stroke="#000" stroke-width="1.5"/>
<line x1="379.16" y1="465.40000000000003" x2="379.16" y2="624" stroke="#19e3f0" stroke-width="1.6" stroke-dasharray="5,5.2"/>
<g clip-path="url(#cf)" fill="none" stroke-linejoin="round">
<polyline points="313.8,610.7 314.8,606.9 315.7,618.2 316.6,605.0 317.6,620.1 318.5,614.4 319.5,616.3 320.4,610.7 321.4,610.7 322.3,606.9 323.4,595.6 324.2,608.8 325.1,612.5 326.1,610.7 327.0,614.4 327.9,612.5 328.9,616.3 329.8,612.5 330.8,606.9 331.7,589.9 332.7,612.5 333.6,616.3 335.5,617.3 337.4,618.2 339.2,616.3 341.1,612.5 342.6,606.9 344.0,614.4 345.8,619.1 347.7,620.1 349.6,621.0 351.5,620.1 352.8,619.1 354.3,621.0 356.2,620.5 357.7,621.6 359.6,622.0 361.5,621.6 363.4,622.3 365.6,621.6 367.5,622.3 369.4,622.0 371.3,622.3 373.1,621.6 374.3,615.9 375.4,619.1 376.9,620.1 378.4,621.6 380.3,622.9 382.6,623.2 382.9,623.2 435.6,623.2 438.5,622.0 441.3,618.2 444.1,615.4 446.9,614.0 449.8,614.4 452.6,615.4 456.4,614.4 460.1,612.2 463.0,609.7 465.8,607.8 467.7,606.0 469.5,606.0 472.4,606.9 475.2,607.8 478.0,606.9 479.9,591.8 481.8,569.2 482.7,559.8 484.2,573.0 485.6,591.8 487.4,605.0 489.3,610.7 490.6,611.6 492.1,603.1 494.0,595.6 495.9,576.8 497.4,557.9 498.7,548.5 500.1,550.4 501.6,554.2 503.1,565.5 504.4,582.4 506.3,591.8 507.6,580.5 508.7,565.5 510.0,531.6 511.0,512.7 512.3,529.7 513.4,539.1 514.7,545.7 516.3,535.3 517.2,512.7 518.1,493.9 518.9,535.3 519.8,567.3 520.8,573.0 521.9,550.4 523.2,557.9 524.5,573.0 525.7,563.6 527.2,578.6" stroke="#111111" stroke-width="1.0"/>
<polyline points="360.3,456.2 360.3,464.7 361.8,544.7 363.7,600.3 365.2,535.3 366.2,464.7 366.9,464.7 367.5,497.7 368.4,537.2 369.4,464.7 370.5,464.7 371.3,497.7 372.2,531.6 373.1,563.6 374.1,589.9 375.0,464.7 375.0,456.2 384.1,456.2 384.1,464.7 384.3,623.2 382.9,623.2 435.6,623.2 438.5,621.6 441.3,619.1 444.1,617.3 446.9,615.9 449.8,615.4 452.6,614.8 456.4,614.0 459.2,612.9 462.0,609.7 464.8,603.1 467.7,595.6 469.9,587.1 472.4,587.1 475.2,587.1 478.0,586.2 479.9,580.5 481.2,565.5 482.4,538.2 483.7,557.9 485.0,580.5 486.5,591.8 488.4,601.2 489.9,608.8 491.2,584.3 492.1,591.8 493.7,580.5 495.0,573.0 496.3,557.9 497.4,544.7 498.4,534.4 499.7,548.5 501.2,554.2 502.5,561.7 503.8,573.0 505.3,597.5 506.8,573.0 508.2,544.7 509.1,529.7 510.0,516.5 511.0,478.8 511.9,460.0 512.9,497.7 513.8,525.9 515.1,541.0 516.3,539.1 517.2,497.7 517.9,460.0 518.5,516.5 519.5,565.5 520.4,567.3 521.3,548.5 522.3,539.1 523.2,527.8 524.2,512.7 525.1,484.5 526.0,497.7 527.2,507.1" stroke="#ff1a1a" stroke-width="1.0"/>
</g>
<line x1="313.90" y1="624" x2="313.90" y2="627.2" stroke="#000" stroke-width="1.3"/>
<line x1="313.90" y1="464.6" x2="313.90" y2="467.8" stroke="#000" stroke-width="1.3"/>
<text x="313.90" y="638.80" text-anchor="middle" class="tl">-4</text>
<line x1="331.68" y1="624" x2="331.68" y2="625.8" stroke="#000" stroke-width="1.3"/>
<line x1="331.68" y1="464.6" x2="331.68" y2="466.40000000000003" stroke="#000" stroke-width="1.3"/>
<line x1="349.47" y1="624" x2="349.47" y2="627.2" stroke="#000" stroke-width="1.3"/>
<line x1="349.47" y1="464.6" x2="349.47" y2="467.8" stroke="#000" stroke-width="1.3"/>
<text x="349.47" y="638.80" text-anchor="middle" class="tl">-2</text>
<line x1="367.25" y1="624" x2="367.25" y2="625.8" stroke="#000" stroke-width="1.3"/>
<line x1="367.25" y1="464.6" x2="367.25" y2="466.40000000000003" stroke="#000" stroke-width="1.3"/>
<line x1="385.03" y1="624" x2="385.03" y2="627.2" stroke="#000" stroke-width="1.3"/>
<line x1="385.03" y1="464.6" x2="385.03" y2="467.8" stroke="#000" stroke-width="1.3"/>
<text x="385.03" y="638.80" text-anchor="middle" class="tl">0</text>
<line x1="402.82" y1="624" x2="402.82" y2="625.8" stroke="#000" stroke-width="1.3"/>
<line x1="402.82" y1="464.6" x2="402.82" y2="466.40000000000003" stroke="#000" stroke-width="1.3"/>
<line x1="420.60" y1="624" x2="420.60" y2="627.2" stroke="#000" stroke-width="1.3"/>
<line x1="420.60" y1="464.6" x2="420.60" y2="467.8" stroke="#000" stroke-width="1.3"/>
<text x="420.60" y="638.80" text-anchor="middle" class="tl">2</text>
<line x1="438.38" y1="624" x2="438.38" y2="625.8" stroke="#000" stroke-width="1.3"/>
<line x1="438.38" y1="464.6" x2="438.38" y2="466.40000000000003" stroke="#000" stroke-width="1.3"/>
<line x1="456.17" y1="624" x2="456.17" y2="627.2" stroke="#000" stroke-width="1.3"/>
<line x1="456.17" y1="464.6" x2="456.17" y2="467.8" stroke="#000" stroke-width="1.3"/>
<text x="456.17" y="638.80" text-anchor="middle" class="tl">4</text>
<line x1="473.95" y1="624" x2="473.95" y2="625.8" stroke="#000" stroke-width="1.3"/>
<line x1="473.95" y1="464.6" x2="473.95" y2="466.40000000000003" stroke="#000" stroke-width="1.3"/>
<line x1="491.73" y1="624" x2="491.73" y2="627.2" stroke="#000" stroke-width="1.3"/>
<line x1="491.73" y1="464.6" x2="491.73" y2="467.8" stroke="#000" stroke-width="1.3"/>
<text x="491.73" y="638.80" text-anchor="middle" class="tl">6</text>
<line x1="509.52" y1="624" x2="509.52" y2="625.8" stroke="#000" stroke-width="1.3"/>
<line x1="509.52" y1="464.6" x2="509.52" y2="466.40000000000003" stroke="#000" stroke-width="1.3"/>
<line x1="527.30" y1="624" x2="527.30" y2="627.2" stroke="#000" stroke-width="1.3"/>
<line x1="527.30" y1="464.6" x2="527.30" y2="467.8" stroke="#000" stroke-width="1.3"/>
<text x="527.30" y="638.80" text-anchor="middle" class="tl">8</text>
<line x1="313.9" y1="624.00" x2="310.7" y2="624.00" stroke="#000" stroke-width="1.3"/>
<line x1="527.3" y1="624.00" x2="524.0999999999999" y2="624.00" stroke="#000" stroke-width="1.3"/>
<line x1="313.9" y1="584.15" x2="312.09999999999997" y2="584.15" stroke="#000" stroke-width="1.3"/>
<line x1="527.3" y1="584.15" x2="525.5" y2="584.15" stroke="#000" stroke-width="1.3"/>
<line x1="313.9" y1="544.30" x2="310.7" y2="544.30" stroke="#000" stroke-width="1.3"/>
<line x1="527.3" y1="544.30" x2="524.0999999999999" y2="544.30" stroke="#000" stroke-width="1.3"/>
<line x1="313.9" y1="504.45" x2="312.09999999999997" y2="504.45" stroke="#000" stroke-width="1.3"/>
<line x1="527.3" y1="504.45" x2="525.5" y2="504.45" stroke="#000" stroke-width="1.3"/>
<line x1="313.9" y1="464.60" x2="310.7" y2="464.60" stroke="#000" stroke-width="1.3"/>
<line x1="527.3" y1="464.60" x2="524.0999999999999" y2="464.60" stroke="#000" stroke-width="1.3"/>
<text x="308.90" y="627.20" text-anchor="end" class="tl" style="font-size:12.5px">0.00</text>
<text x="308.90" y="547.50" text-anchor="end" class="tl" style="font-size:12.5px">0.05</text>
<text x="308.90" y="467.80" text-anchor="end" class="tl" style="font-size:12.5px">0.10</text>
<text x="413" y="458" text-anchor="middle" class="pt">(f)</text>
<text x="415.4" y="652.8" text-anchor="middle" class="ax">Energy (eV)</text>
<text transform="translate(276.5,534) rotate(-90)" x="0" y="4.2" text-anchor="middle" class="ax">PDOS</text>
<text x="409.3" y="491.3" class="lt" style="font-size:12.45px">Projected DOS-O</text>
<line x1="408.3" y1="504.9" x2="436.5" y2="504.9" stroke="#111111" stroke-width="1.3"/>
<text x="439.2" y="509.1" class="lg" style="font-size:12.3px">s</text>
<line x1="408.3" y1="519.8" x2="436.5" y2="519.8" stroke="#ff1a1a" stroke-width="1.3"/>
<text x="439.2" y="524.0" class="lg" style="font-size:12.3px">p</text>
<text x="372" y="635.50" class="ef">E</text>
<path d="M384.00,635.40 Q383.20,635.40 382.80,636.40 L380.10,641.40 Q379.70,642.20 379.00,642.20" fill="none" stroke="#1a1aff" stroke-width="1.25" stroke-linecap="round"/>
<clipPath id="cg"><rect x="40.400000000000006" y="687.0" width="209.99999999999997" height="158.60000000000008"/></clipPath>
<rect x="39.7" y="686.3" width="211.40" height="157.80" fill="none" stroke="#000" stroke-width="1.5"/>
<line x1="104.35" y1="687.0999999999999" x2="104.35" y2="844.1" stroke="#19e3f0" stroke-width="1.6" stroke-dasharray="5,5.2"/>
<g clip-path="url(#cg)" fill="none" stroke-linejoin="round">
<polyline points="39.7,843.3 42.8,843.1 45.6,843.3 48.5,842.7 51.4,843.3 56.2,843.3 61.9,843.3 67.7,843.3 75.4,843.3 104.2,843.3 97.5,843.3 165.0,843.3 203.8,842.9 207.2,841.7 209.7,843.2 215.7,843.3 220.7,842.2 225.8,841.7 229.2,842.5 231.7,843.3 234.2,840.9 235.9,839.2 237.6,841.7 241.0,841.7 244.4,840.9 247.7,840.0 251.1,839.5" stroke="#111111" stroke-width="1.0"/>
<polyline points="97.5,843.3 97.8,843.3 98.1,843.3 98.4,843.3 98.7,843.3 99.0,843.3 99.3,843.3 99.6,843.3 99.9,843.3 100.2,843.3 100.5,843.3 100.8,843.3 101.1,843.3 101.4,843.3 101.7,843.3 102.0,843.3 102.3,843.3 102.6,843.3 102.9,843.3 103.2,843.3 103.5,843.3 103.8,843.3 104.1,843.3 104.4,843.3 104.7,843.3 105.0,843.3 105.3,843.3 105.6,843.3 105.9,843.3 106.2,843.3 106.5,843.3 106.8,843.3 107.1,843.3 107.4,843.3 107.7,843.3 108.0,843.3 108.3,843.3 108.6,843.3 108.9,843.3 109.2,843.3 109.5,843.3 109.8,843.3 110.1,843.3 110.4,843.3 110.7,843.3 111.0,843.3 111.3,843.3 111.6,843.3 111.9,843.3 112.2,843.3 112.5,843.3 112.8,843.3 113.1,843.3 113.4,843.3 113.7,843.3 114.0,843.3 114.3,843.3 114.6,843.3 114.9,843.3 115.2,843.3 115.5,843.3 115.8,843.3 116.1,843.3 116.4,843.3 116.7,843.3 117.0,843.3 117.3,843.3 117.6,843.3 117.9,843.3 118.2,843.3 118.5,843.3 118.8,843.3 119.1,843.3 119.4,843.3 119.7,843.3 120.0,843.3 120.3,843.3 120.6,843.3 120.9,843.3 121.2,843.3 121.5,843.3 121.8,843.3 122.1,843.3 122.4,843.3 122.7,843.3 123.0,843.3 123.3,843.3 123.6,843.3 123.9,843.3 124.2,843.3 124.5,843.3 124.8,843.3 125.1,843.3 125.4,843.3 125.7,843.3 126.0,843.3 126.3,843.3 126.6,843.3 126.9,843.3 127.2,843.3 127.5,843.3 127.8,843.3 128.1,843.3 128.4,843.3 128.7,843.3 129.0,843.3 129.3,843.3 129.6,843.3 129.9,843.3 130.2,843.3 130.5,843.3 130.8,843.3 131.1,843.3 131.4,843.3 131.7,843.3 132.0,843.3 132.3,843.3 132.6,843.3 132.9,843.3 133.2,843.3 133.5,843.3 133.8,843.3 134.1,843.3 134.4,843.3 134.7,843.3 135.0,843.3 135.3,843.3 135.6,843.3 135.9,843.3 136.2,843.3 136.5,843.3 136.8,843.3 137.1,843.3 137.4,843.3 137.7,843.3 138.0,843.3 138.3,843.3 138.6,843.3 138.9,843.3 139.2,843.3 139.5,843.3 139.8,843.3 140.1,843.3 140.4,843.3 140.7,843.3 141.0,843.3 141.3,843.3 141.6,843.3 141.9,843.3 142.2,843.3 142.5,843.3 142.8,843.3 143.1,843.3 143.4,843.3 143.7,843.3 144.0,843.3 144.3,843.3 144.6,843.3 144.9,843.3 145.2,843.3 145.5,843.3 145.8,843.3 146.1,843.3 146.4,843.3 146.7,843.3 147.0,843.3 147.3,843.3 147.6,843.3 147.9,843.3 148.2,843.3 148.5,843.3 148.8,843.3 149.1,843.3 149.4,843.3 149.7,843.3 150.0,843.3 150.3,843.3 150.6,843.3 150.9,843.3 151.2,843.3 151.5,843.3 151.8,843.3 152.1,843.3 152.4,843.3 152.7,843.3 153.0,843.3 153.3,843.3 153.6,843.3 153.9,843.3 154.2,843.3 154.5,843.3 154.8,843.3 155.1,843.3 155.4,843.3 155.7,843.3 156.0,843.3 156.3,843.3 156.6,843.3 156.9,843.3 157.2,843.3 157.5,843.3 157.8,843.3 158.1,843.3 158.4,843.3 158.7,843.3 159.0,843.3 159.3,843.3 159.6,843.3 159.9,843.3 160.2,843.3 160.5,843.3 160.8,843.3 161.1,843.3 161.4,843.3 161.7,843.3 162.0,843.3 162.3,843.3 162.6,843.3 162.9,843.3 163.2,843.3 163.5,843.3 163.8,843.3 164.1,843.3 164.4,843.3 164.7,843.3 165.0,843.3 190.3,842.5 203.8,841.7 207.2,839.2 209.7,841.7 215.7,843.3 220.7,840.0 223.3,838.8 227.5,840.0 230.9,841.7 234.2,837.5 235.9,836.1 237.6,838.8 240.1,840.0 241.8,838.3 243.5,839.2 246.1,837.5 248.6,836.6 250.3,833.3 251.1,832.4" stroke="#ff1a1a" stroke-width="1.2"/>
<polyline points="39.7,822.3 40.1,828.0 40.5,826.1 40.8,823.6 41.2,814.8 41.6,821.4 42.0,824.2 42.4,826.2 42.8,829.9 43.1,826.7 43.4,817.8 43.7,811.0 44.0,811.2 44.4,799.6 44.7,795.9 45.1,801.1 45.4,787.3 45.8,801.7 46.2,814.8 46.6,821.1 47.0,822.3 47.4,814.0 47.7,805.3 48.1,807.1 48.5,792.1 48.9,794.9 49.3,785.5 49.7,803.7 50.0,814.8 50.4,824.8 50.8,823.3 51.2,818.8 51.6,815.5 52.0,811.0 52.3,809.0 52.6,804.2 53.0,803.6 53.3,799.6 53.6,795.9 54.0,786.7 54.3,786.2 54.7,778.8 55.0,793.4 55.4,814.4 55.8,817.6 56.1,815.3 56.4,798.3 56.8,788.3 57.1,788.1 57.5,763.7 57.8,776.0 58.2,772.5 58.5,782.6 58.8,797.5 59.1,793.2 59.4,795.9 59.8,807.6 60.1,808.3 60.4,798.7 60.7,799.4 61.0,791.7 61.4,780.7 61.8,788.7 62.1,768.4 62.5,783.0 62.9,777.0 63.5,748.6 63.8,767.3 64.1,775.2 64.4,780.7 64.8,782.0 65.1,794.3 65.4,792.1 65.7,799.0 66.0,808.8 66.4,803.4 66.7,791.6 67.0,787.2 67.3,777.0 67.6,783.5 68.0,769.4 68.3,746.7 68.7,760.9 69.0,759.9 70.0,711.8 70.3,725.4 70.6,736.7 71.0,741.0 71.3,763.3 71.7,754.3 72.0,765.5 72.4,750.6 72.7,729.7 73.0,733.6 73.3,722.8 73.6,716.5 74.0,714.6 74.4,700.4 74.8,735.4 75.2,729.7 75.6,754.7 75.9,739.2 76.3,771.0 76.7,773.2 77.1,759.1 77.5,748.6 77.9,766.7 78.3,777.0 78.6,775.7 78.9,783.6 79.2,761.8 79.5,784.1 79.8,791.8 80.2,780.7 80.6,794.6 80.9,790.2 81.7,748.6 82.1,766.3 82.5,739.2 83.0,682.5 83.6,720.3 84.2,746.7 84.6,778.2 85.0,780.7 85.3,792.9 85.7,805.3 86.1,812.2 86.5,818.9 86.9,818.5 87.3,825.0 87.7,821.9 88.0,823.3 88.4,826.5 88.8,822.0 89.2,823.3 89.6,822.5 90.0,819.8 90.3,818.5 90.7,816.5 91.0,821.6 91.3,816.6 91.6,818.8 91.9,820.3 92.3,811.0 92.6,820.5 93.0,822.3 93.3,822.6 93.7,817.0 94.0,812.9 94.4,815.0 94.8,807.8 95.1,794.0 95.5,815.1 95.9,826.1 96.2,833.0 96.5,833.4 96.9,837.4 97.2,839.3 97.5,839.6 97.8,838.9 98.1,840.5 98.4,840.3 98.7,840.6 99.0,841.5 99.4,841.7 99.7,841.5 100.0,841.4 100.3,841.7 100.6,842.2 101.0,842.5 101.3,842.2 101.6,842.5 101.9,842.6 102.2,842.8 102.6,842.8 102.9,843.0 103.2,843.3 103.5,843.3 103.8,843.3 104.2,843.3" stroke="#ff1a1a" stroke-width="0.6"/>
<polyline points="39.7,822.0 40.1,827.8 40.5,825.8 40.8,823.2 41.2,814.3 41.6,821.0 42.0,823.9 42.4,825.9 42.8,829.7 43.1,826.5 43.4,817.4 43.7,810.5 44.0,810.7 44.4,799.0 44.7,795.1 45.1,800.5 45.4,786.5 45.8,801.1 46.2,814.3 46.6,820.7 47.0,822.0 47.4,813.6 47.7,804.7 48.1,806.6 48.5,791.3 48.9,794.2 49.3,784.6 49.7,803.1 50.0,814.3 50.4,824.5 50.8,822.9 51.2,818.5 51.6,815.1 52.0,810.5 52.3,808.4 52.6,803.6 53.0,803.0 53.3,799.0 53.6,795.1 54.0,785.8 54.3,785.3 54.7,777.9 55.0,792.6 55.4,814.0 55.8,817.2 56.1,814.9 56.4,797.6 56.8,787.4 57.1,787.3 57.5,762.5 57.8,774.9 58.2,771.4 58.5,781.7 58.8,796.8 59.1,792.4 59.4,795.1 59.8,807.0 60.1,807.7 60.4,798.0 60.7,798.8 61.0,790.9 61.4,779.8 61.8,787.9 62.1,767.3 62.5,782.0 62.9,775.9 63.5,747.2 63.8,766.1 64.1,774.1 64.4,779.8 64.8,781.0 65.1,793.5 65.4,791.3 65.7,798.3 66.0,808.3 66.4,802.8 66.7,790.8 67.0,786.3 67.3,775.9 67.6,782.6 68.0,768.2 68.3,745.2 68.7,759.6 69.0,758.7 70.0,709.7 70.3,723.6 70.6,735.1 71.0,739.5 71.3,762.1 71.7,752.9 72.0,764.3 72.4,749.1 72.7,728.0 73.0,731.9 73.3,721.0 73.6,714.5 74.0,712.6 74.4,698.2 74.8,733.7 75.2,728.0 75.6,753.3 75.9,737.6 76.3,769.9 76.7,772.1 77.1,757.8 77.5,747.2 77.9,765.5 78.3,775.9 78.6,774.7 78.9,782.7 79.2,760.6 79.5,783.2 79.8,791.0 80.2,779.8 80.6,793.8 80.9,789.4 81.7,747.2 82.1,765.1 82.5,737.6 83.0,680.0 83.6,718.4 84.2,745.2 84.6,777.2 85.0,779.8 85.3,792.1 85.7,804.7 86.1,811.7 86.5,818.5 86.9,818.1 87.3,824.7 87.7,821.6 88.0,822.9 88.4,826.2 88.8,821.7 89.2,822.9 89.6,822.1 90.0,819.5 90.3,818.1 90.7,816.1 91.0,821.3 91.3,816.2 91.6,818.4 91.9,820.0 92.3,810.5 92.6,820.2 93.0,822.0 93.3,822.3 93.7,816.6 94.0,812.4 94.4,814.5 94.8,807.2 95.1,793.2 95.5,814.7 95.9,825.8 96.2,832.8 96.5,833.2 96.9,837.3 97.2,839.2 97.5,839.6 97.8,838.8 98.1,840.5 98.4,840.2 98.7,840.5 99.0,841.5 99.4,841.6 99.7,841.5 100.0,841.3 100.3,841.7 100.6,842.2 101.0,842.4 101.3,842.1 101.6,842.4 101.9,842.6 102.2,842.8 102.6,842.8 102.9,842.9 103.2,843.3 103.5,843.3 103.8,843.3 104.2,843.3 103.8,843.3 103.5,843.3 103.2,843.3 102.9,843.3 102.6,843.3 102.3,843.3 102.0,843.3 101.7,843.3 101.4,843.3 101.1,843.3 100.8,843.3 100.5,843.3 100.2,843.3 99.9,843.3 99.6,843.3 99.3,843.3 99.0,843.3 98.7,843.3 98.4,843.3 98.1,843.3 97.8,843.3 97.5,843.3 97.8,843.3 98.1,843.3 98.4,843.3 98.7,843.3 99.0,843.3 99.3,843.3 99.6,843.3 99.9,843.3 100.2,843.3 100.5,843.3 100.8,843.3 101.1,843.3 101.4,843.3 101.7,843.3 102.0,843.3 102.3,843.3 102.6,843.3 102.9,843.3 103.2,843.3 103.5,843.3 103.8,843.3 104.1,843.3 104.4,843.3 104.7,843.3 105.0,843.3 105.3,843.3 105.6,843.3 105.9,843.3 106.2,843.3 106.5,843.3 106.8,843.3 107.1,843.3 107.4,843.3 107.7,843.3 108.0,843.3 108.3,843.3 108.6,843.3 108.9,843.3 109.2,843.3 109.5,843.3 109.8,843.3 110.1,843.3 110.4,843.3 110.7,843.3 111.0,843.3 111.3,843.3 111.6,843.3 111.9,843.3 112.2,843.3 112.5,843.3 112.8,843.3 113.1,843.3 113.4,843.3 113.7,843.3 114.0,843.3 114.3,843.3 114.6,843.3 114.9,843.3 115.2,843.3 115.5,843.3 115.8,843.3 116.1,843.3 116.4,843.3 116.7,843.3 117.0,843.3 117.3,843.3 117.6,843.3 117.9,843.3 118.2,843.3 118.5,843.3 118.8,843.3 119.1,843.3 119.4,843.3 119.7,843.3 120.0,843.3 120.3,843.3 120.6,843.3 120.9,843.3 121.2,843.3 121.5,843.3 121.8,843.3 122.1,843.3 122.4,843.3 122.7,843.3 123.0,843.3 123.3,843.3 123.6,843.3 123.9,843.3 124.2,843.3 124.5,843.3 124.8,843.3 125.1,843.3 125.4,843.3 125.7,843.3 126.0,843.3 126.3,843.3 126.6,843.3 126.9,843.3 127.2,843.3 127.5,843.3 127.8,843.3 128.1,843.3 128.4,843.3 128.7,843.3 129.0,843.3 129.3,843.3 129.6,843.3 129.9,843.3 130.2,843.3 130.5,843.3 130.8,843.3 131.1,843.3 131.4,843.3 131.7,843.3 132.0,843.3 132.3,843.3 132.6,843.3 132.9,843.3 133.2,843.3 133.5,843.3 133.8,843.3 134.1,843.3 134.4,843.3 134.7,843.3 135.0,843.3 135.3,843.3 135.6,843.3 135.9,843.3 136.2,843.3 136.5,843.3 136.8,843.3 137.1,843.3 137.4,843.3 137.7,843.3 138.0,843.3 138.3,843.3 138.6,843.3 138.9,843.3 139.2,843.3 139.5,843.3 139.8,843.3 140.1,843.3 140.4,843.3 140.7,843.3 141.0,843.3 141.3,843.3 141.6,843.3 141.9,843.3 142.2,843.3 142.5,843.3 142.8,843.3 143.1,843.3 143.4,843.3 143.7,843.3 144.0,843.3 144.3,843.3 144.6,843.3 144.9,843.3 145.2,843.3 145.5,843.3 145.8,843.3 146.1,843.3 146.4,843.3 146.7,843.3 147.0,843.3 147.3,843.3 147.6,843.3 147.9,843.3 148.2,843.3 148.5,843.3 148.8,843.3 149.1,843.3 149.4,843.3 149.7,843.3 150.0,843.3 150.3,843.3 150.6,843.3 150.9,843.3 151.2,843.3 151.5,843.3 151.8,843.3 152.1,843.3 152.4,843.3 152.7,843.3 153.0,843.3 153.3,843.3 153.6,843.3 153.9,843.3 154.2,843.3 154.5,843.3 154.8,843.3 155.1,843.3 155.4,843.3 155.7,843.3 156.0,843.3 156.3,843.3 156.6,843.3 156.9,843.3 157.2,843.3 157.5,843.3 157.8,843.3 158.1,843.3 158.4,843.3 158.7,843.3 159.0,843.3 159.3,843.3 159.6,843.3 159.9,843.3 160.2,843.3 160.5,843.3 160.8,843.3 161.1,843.3 161.4,843.3 161.7,843.3 162.0,843.3 162.3,843.3 162.6,843.3 162.9,843.3 163.2,843.3 163.5,843.3 163.8,843.3 164.1,843.3 164.4,843.3 164.7,843.3 165.0,843.3 181.9,842.9 190.3,841.7 195.4,840.9 203.8,840.5 205.5,839.2 207.2,836.1 209.2,839.5 212.3,841.7 215.7,842.5 219.0,839.2 222.4,836.1 225.8,837.1 228.8,837.8 230.9,840.0 232.5,835.8 234.2,833.3 235.6,830.7 235.9,830.7 236.1,811.3 236.3,835.8 236.6,835.8 238.5,837.5 240.1,838.3 241.3,834.1 241.8,834.1 242.0,828.7 242.2,838.3 242.7,838.3 244.4,835.8 245.7,833.3 247.7,834.1 249.4,832.4 250.3,828.2 251.1,827.3" stroke="#1fb82a" stroke-width="1.1"/>
</g>
<line x1="39.70" y1="844.1" x2="39.70" y2="847.3000000000001" stroke="#000" stroke-width="1.3"/>
<line x1="39.70" y1="686.3" x2="39.70" y2="689.5" stroke="#000" stroke-width="1.3"/>
<text x="39.70" y="858.90" text-anchor="middle" class="tl">-4</text>
<line x1="57.32" y1="844.1" x2="57.32" y2="845.9" stroke="#000" stroke-width="1.3"/>
<line x1="57.32" y1="686.3" x2="57.32" y2="688.0999999999999" stroke="#000" stroke-width="1.3"/>
<line x1="74.93" y1="844.1" x2="74.93" y2="847.3000000000001" stroke="#000" stroke-width="1.3"/>
<line x1="74.93" y1="686.3" x2="74.93" y2="689.5" stroke="#000" stroke-width="1.3"/>
<text x="74.93" y="858.90" text-anchor="middle" class="tl">-2</text>
<line x1="92.55" y1="844.1" x2="92.55" y2="845.9" stroke="#000" stroke-width="1.3"/>
<line x1="92.55" y1="686.3" x2="92.55" y2="688.0999999999999" stroke="#000" stroke-width="1.3"/>
<line x1="110.17" y1="844.1" x2="110.17" y2="847.3000000000001" stroke="#000" stroke-width="1.3"/>
<line x1="110.17" y1="686.3" x2="110.17" y2="689.5" stroke="#000" stroke-width="1.3"/>
<text x="110.17" y="858.90" text-anchor="middle" class="tl">0</text>
<line x1="127.78" y1="844.1" x2="127.78" y2="845.9" stroke="#000" stroke-width="1.3"/>
<line x1="127.78" y1="686.3" x2="127.78" y2="688.0999999999999" stroke="#000" stroke-width="1.3"/>
<line x1="145.40" y1="844.1" x2="145.40" y2="847.3000000000001" stroke="#000" stroke-width="1.3"/>
<line x1="145.40" y1="686.3" x2="145.40" y2="689.5" stroke="#000" stroke-width="1.3"/>
<text x="145.40" y="858.90" text-anchor="middle" class="tl">2</text>
<line x1="163.02" y1="844.1" x2="163.02" y2="845.9" stroke="#000" stroke-width="1.3"/>
<line x1="163.02" y1="686.3" x2="163.02" y2="688.0999999999999" stroke="#000" stroke-width="1.3"/>
<line x1="180.63" y1="844.1" x2="180.63" y2="847.3000000000001" stroke="#000" stroke-width="1.3"/>
<line x1="180.63" y1="686.3" x2="180.63" y2="689.5" stroke="#000" stroke-width="1.3"/>
<text x="180.63" y="858.90" text-anchor="middle" class="tl">4</text>
<line x1="198.25" y1="844.1" x2="198.25" y2="845.9" stroke="#000" stroke-width="1.3"/>
<line x1="198.25" y1="686.3" x2="198.25" y2="688.0999999999999" stroke="#000" stroke-width="1.3"/>
<line x1="215.87" y1="844.1" x2="215.87" y2="847.3000000000001" stroke="#000" stroke-width="1.3"/>
<line x1="215.87" y1="686.3" x2="215.87" y2="689.5" stroke="#000" stroke-width="1.3"/>
<text x="215.87" y="858.90" text-anchor="middle" class="tl">6</text>
<line x1="233.48" y1="844.1" x2="233.48" y2="845.9" stroke="#000" stroke-width="1.3"/>
<line x1="233.48" y1="686.3" x2="233.48" y2="688.0999999999999" stroke="#000" stroke-width="1.3"/>
<line x1="251.10" y1="844.1" x2="251.10" y2="847.3000000000001" stroke="#000" stroke-width="1.3"/>
<line x1="251.10" y1="686.3" x2="251.10" y2="689.5" stroke="#000" stroke-width="1.3"/>
<text x="251.10" y="858.90" text-anchor="middle" class="tl">8</text>
<line x1="39.7" y1="844.10" x2="36.5" y2="844.10" stroke="#000" stroke-width="1.3"/>
<line x1="251.1" y1="844.10" x2="247.9" y2="844.10" stroke="#000" stroke-width="1.3"/>
<line x1="39.7" y1="824.38" x2="37.900000000000006" y2="824.38" stroke="#000" stroke-width="1.3"/>
<line x1="251.1" y1="824.38" x2="249.29999999999998" y2="824.38" stroke="#000" stroke-width="1.3"/>
<line x1="39.7" y1="804.65" x2="36.5" y2="804.65" stroke="#000" stroke-width="1.3"/>
<line x1="251.1" y1="804.65" x2="247.9" y2="804.65" stroke="#000" stroke-width="1.3"/>
<line x1="39.7" y1="784.92" x2="37.900000000000006" y2="784.92" stroke="#000" stroke-width="1.3"/>
<line x1="251.1" y1="784.92" x2="249.29999999999998" y2="784.92" stroke="#000" stroke-width="1.3"/>
<line x1="39.7" y1="765.20" x2="36.5" y2="765.20" stroke="#000" stroke-width="1.3"/>
<line x1="251.1" y1="765.20" x2="247.9" y2="765.20" stroke="#000" stroke-width="1.3"/>
<line x1="39.7" y1="745.48" x2="37.900000000000006" y2="745.48" stroke="#000" stroke-width="1.3"/>
<line x1="251.1" y1="745.48" x2="249.29999999999998" y2="745.48" stroke="#000" stroke-width="1.3"/>
<line x1="39.7" y1="725.75" x2="36.5" y2="725.75" stroke="#000" stroke-width="1.3"/>
<line x1="251.1" y1="725.75" x2="247.9" y2="725.75" stroke="#000" stroke-width="1.3"/>
<line x1="39.7" y1="706.02" x2="37.900000000000006" y2="706.02" stroke="#000" stroke-width="1.3"/>
<line x1="251.1" y1="706.02" x2="249.29999999999998" y2="706.02" stroke="#000" stroke-width="1.3"/>
<line x1="39.7" y1="686.30" x2="36.5" y2="686.30" stroke="#000" stroke-width="1.3"/>
<line x1="251.1" y1="686.30" x2="247.9" y2="686.30" stroke="#000" stroke-width="1.3"/>
<text x="34.10" y="847.60" text-anchor="end" class="tl" style="font-size:12px">0.0</text>
<text x="34.10" y="808.15" text-anchor="end" class="tl" style="font-size:12px">0.5</text>
<text x="34.10" y="768.70" text-anchor="end" class="tl" style="font-size:12px">1.0</text>
<text x="34.10" y="729.25" text-anchor="end" class="tl" style="font-size:12px">1.5</text>
<text x="34.10" y="689.80" text-anchor="end" class="tl" style="font-size:12px">2.0</text>
<text x="140.9" y="678" text-anchor="middle" class="pt">(g)</text>
<text x="139.3" y="872" text-anchor="middle" class="ax">Energy (eV)</text>
<text transform="translate(9.5,755) rotate(-90)" x="0" y="4.2" text-anchor="middle" class="ax">PDOS</text>
<text x="166.5" y="712.8" class="lt" style="font-size:12.3px">Partial DOS-O</text>
<line x1="183.8" y1="728.9" x2="200.8" y2="728.9" stroke="#111111" stroke-width="1.3"/>
<text x="203.7" y="732.0" class="lg" style="font-size:11px">s</text>
<line x1="183.8" y1="743.2" x2="200.8" y2="743.2" stroke="#ff1a1a" stroke-width="1.3"/>
<text x="203.7" y="746.3" class="lg" style="font-size:11px">p</text>
<line x1="183.8" y1="756.2" x2="200.8" y2="756.2" stroke="#1fb82a" stroke-width="1.3"/>
<text x="203.7" y="759.3" class="lg" style="font-size:11px">PDOS</text>
<text x="105.7" y="710.50" class="ef">E</text>
<path d="M117.70,710.40 Q116.90,710.40 116.50,711.40 L113.80,716.40 Q113.40,717.20 112.70,717.20" fill="none" stroke="#1a1aff" stroke-width="1.25" stroke-linecap="round"/>
<clipPath id="ch"><rect x="317.0" y="687.0" width="203.09999999999994" height="153.10000000000008"/></clipPath>
<rect x="316.3" y="686.3" width="204.50" height="152.30" fill="none" stroke="#000" stroke-width="1.5"/>
<line x1="378.84" y1="687.0999999999999" x2="378.84" y2="838.6" stroke="#19e3f0" stroke-width="1.6" stroke-dasharray="5,5.2"/>
<g clip-path="url(#ch)" fill="none" stroke-linejoin="round">
<polyline points="316.2,823.1 317.1,830.7 318.1,821.2 318.6,832.5 319.6,836.3 320.5,819.4 321.3,815.6 322.0,823.1 322.8,819.4 323.7,825.0 324.7,811.8 325.6,770.4 326.4,811.8 327.1,826.9 328.1,828.8 329.0,828.8 329.9,830.7 330.9,832.5 331.8,828.8 332.8,821.2 333.5,802.4 334.3,823.1 335.2,832.5 336.5,831.6 338.4,832.5 340.3,830.7 342.2,826.9 343.5,815.6 344.6,825.0 346.0,830.7 347.8,833.5 349.7,835.4 351.6,836.3 353.1,834.4 354.4,836.3 356.3,837.3 358.2,834.4 360.1,834.0 362.0,834.8 363.5,837.3 364.8,836.3 366.3,837.8 367.6,837.3 369.1,836.3 370.1,834.8 370.6,837.3 372.3,837.8 384.2,837.8 368.5,837.8 433.5,837.8 436.3,836.3 439.1,832.5 441.9,829.7 444.8,827.8 446.7,826.9 448.5,828.8 451.4,827.8 454.2,827.8 457.0,826.5 459.8,824.1 462.7,821.2 464.5,820.9 466.4,819.4 468.3,821.2 471.1,823.1 473.6,824.1 475.5,811.8 476.8,793.0 478.1,772.3 479.2,785.5 480.6,802.4 482.4,811.8 484.3,823.1 486.2,826.9 487.5,819.4 489.0,815.6 490.5,804.3 491.9,794.9 493.2,786.4 494.7,793.0 496.2,794.9 497.5,796.8 498.8,802.4 500.0,819.4 500.9,800.5 502.2,798.6 503.7,785.5 504.7,764.7 505.6,777.9 506.4,708.2 507.1,789.2 507.9,794.9 509.4,798.6 510.7,789.2 511.6,777.9 512.6,806.2 513.5,774.2 514.8,759.1 515.8,751.6 516.7,762.9 517.7,770.4 518.4,777.9 519.2,766.6 520.3,774.2" stroke="#111111" stroke-width="1.0"/>
<polyline points="368.8,676.2 368.8,686.6 369.0,715.8 369.2,686.6 369.3,676.2 371.4,676.2 371.4,686.6 371.9,708.2 372.5,736.5 373.1,759.1 373.5,768.5 373.6,793.0 374.0,770.4 374.4,800.5 375.1,794.9 376.1,804.3 377.0,809.9 378.0,811.8 378.9,821.2 380.0,825.0 381.2,828.8 382.3,832.5 383.4,837.3 384.2,837.8 368.5,837.8 433.5,837.8 436.3,837.3 439.1,834.8 441.9,832.5 444.8,830.7 447.6,829.7 450.4,828.4 453.2,827.5 456.1,826.5 458.9,823.1 461.7,811.8 463.6,806.2 465.5,800.5 467.4,799.6 470.2,800.5 473.0,801.5 474.9,796.8 476.2,785.5 477.4,768.5 478.1,757.2 479.2,770.4 480.6,789.2 482.4,806.2 484.3,815.6 485.6,825.0 486.6,798.6 487.5,804.3 489.0,794.9 490.5,776.0 491.9,755.3 492.8,742.1 493.9,753.4 495.6,755.3 496.9,759.1 498.4,777.9 500.0,796.8 501.3,762.9 502.2,736.5 503.2,717.7 504.1,725.2 505.0,696.9 506.0,680.0 506.9,717.7 507.9,747.8 508.8,764.7 510.1,772.3 511.3,736.5 512.0,680.0 512.8,736.5 513.5,770.4 514.5,761.0 515.4,734.6 516.3,727.1 517.3,723.3 518.2,713.9 519.2,710.1 520.3,717.7" stroke="#ff1a1a" stroke-width="1.0"/>
</g>
<line x1="316.30" y1="838.6" x2="316.30" y2="841.8000000000001" stroke="#000" stroke-width="1.3"/>
<line x1="316.30" y1="686.3" x2="316.30" y2="689.5" stroke="#000" stroke-width="1.3"/>
<text x="316.30" y="853.40" text-anchor="middle" class="tl">-4</text>
<line x1="333.34" y1="838.6" x2="333.34" y2="840.4" stroke="#000" stroke-width="1.3"/>
<line x1="333.34" y1="686.3" x2="333.34" y2="688.0999999999999" stroke="#000" stroke-width="1.3"/>
<line x1="350.38" y1="838.6" x2="350.38" y2="841.8000000000001" stroke="#000" stroke-width="1.3"/>
<line x1="350.38" y1="686.3" x2="350.38" y2="689.5" stroke="#000" stroke-width="1.3"/>
<text x="350.38" y="853.40" text-anchor="middle" class="tl">-2</text>
<line x1="367.43" y1="838.6" x2="367.43" y2="840.4" stroke="#000" stroke-width="1.3"/>
<line x1="367.43" y1="686.3" x2="367.43" y2="688.0999999999999" stroke="#000" stroke-width="1.3"/>
<line x1="384.47" y1="838.6" x2="384.47" y2="841.8000000000001" stroke="#000" stroke-width="1.3"/>
<line x1="384.47" y1="686.3" x2="384.47" y2="689.5" stroke="#000" stroke-width="1.3"/>
<text x="384.47" y="853.40" text-anchor="middle" class="tl">0</text>
<line x1="401.51" y1="838.6" x2="401.51" y2="840.4" stroke="#000" stroke-width="1.3"/>
<line x1="401.51" y1="686.3" x2="401.51" y2="688.0999999999999" stroke="#000" stroke-width="1.3"/>
<line x1="418.55" y1="838.6" x2="418.55" y2="841.8000000000001" stroke="#000" stroke-width="1.3"/>
<line x1="418.55" y1="686.3" x2="418.55" y2="689.5" stroke="#000" stroke-width="1.3"/>
<text x="418.55" y="853.40" text-anchor="middle" class="tl">2</text>
<line x1="435.59" y1="838.6" x2="435.59" y2="840.4" stroke="#000" stroke-width="1.3"/>
<line x1="435.59" y1="686.3" x2="435.59" y2="688.0999999999999" stroke="#000" stroke-width="1.3"/>
<line x1="452.63" y1="838.6" x2="452.63" y2="841.8000000000001" stroke="#000" stroke-width="1.3"/>
<line x1="452.63" y1="686.3" x2="452.63" y2="689.5" stroke="#000" stroke-width="1.3"/>
<text x="452.63" y="853.40" text-anchor="middle" class="tl">4</text>
<line x1="469.67" y1="838.6" x2="469.67" y2="840.4" stroke="#000" stroke-width="1.3"/>
<line x1="469.67" y1="686.3" x2="469.67" y2="688.0999999999999" stroke="#000" stroke-width="1.3"/>
<line x1="486.72" y1="838.6" x2="486.72" y2="841.8000000000001" stroke="#000" stroke-width="1.3"/>
<line x1="486.72" y1="686.3" x2="486.72" y2="689.5" stroke="#000" stroke-width="1.3"/>
<text x="486.72" y="853.40" text-anchor="middle" class="tl">6</text>
<line x1="503.76" y1="838.6" x2="503.76" y2="840.4" stroke="#000" stroke-width="1.3"/>
<line x1="503.76" y1="686.3" x2="503.76" y2="688.0999999999999" stroke="#000" stroke-width="1.3"/>
<line x1="520.80" y1="838.6" x2="520.80" y2="841.8000000000001" stroke="#000" stroke-width="1.3"/>
<line x1="520.80" y1="686.3" x2="520.80" y2="689.5" stroke="#000" stroke-width="1.3"/>
<text x="520.80" y="853.40" text-anchor="middle" class="tl">8</text>
<line x1="316.3" y1="838.60" x2="313.1" y2="838.60" stroke="#000" stroke-width="1.3"/>
<line x1="520.8" y1="838.60" x2="517.5999999999999" y2="838.60" stroke="#000" stroke-width="1.3"/>
<line x1="316.3" y1="823.37" x2="314.5" y2="823.37" stroke="#000" stroke-width="1.3"/>
<line x1="520.8" y1="823.37" x2="519.0" y2="823.37" stroke="#000" stroke-width="1.3"/>
<line x1="316.3" y1="808.14" x2="313.1" y2="808.14" stroke="#000" stroke-width="1.3"/>
<line x1="520.8" y1="808.14" x2="517.5999999999999" y2="808.14" stroke="#000" stroke-width="1.3"/>
<line x1="316.3" y1="792.91" x2="314.5" y2="792.91" stroke="#000" stroke-width="1.3"/>
<line x1="520.8" y1="792.91" x2="519.0" y2="792.91" stroke="#000" stroke-width="1.3"/>
<line x1="316.3" y1="777.68" x2="313.1" y2="777.68" stroke="#000" stroke-width="1.3"/>
<line x1="520.8" y1="777.68" x2="517.5999999999999" y2="777.68" stroke="#000" stroke-width="1.3"/>
<line x1="316.3" y1="762.45" x2="314.5" y2="762.45" stroke="#000" stroke-width="1.3"/>
<line x1="520.8" y1="762.45" x2="519.0" y2="762.45" stroke="#000" stroke-width="1.3"/>
<line x1="316.3" y1="747.22" x2="313.1" y2="747.22" stroke="#000" stroke-width="1.3"/>
<line x1="520.8" y1="747.22" x2="517.5999999999999" y2="747.22" stroke="#000" stroke-width="1.3"/>
<line x1="316.3" y1="731.99" x2="314.5" y2="731.99" stroke="#000" stroke-width="1.3"/>
<line x1="520.8" y1="731.99" x2="519.0" y2="731.99" stroke="#000" stroke-width="1.3"/>
<line x1="316.3" y1="716.76" x2="313.1" y2="716.76" stroke="#000" stroke-width="1.3"/>
<line x1="520.8" y1="716.76" x2="517.5999999999999" y2="716.76" stroke="#000" stroke-width="1.3"/>
<line x1="316.3" y1="701.53" x2="314.5" y2="701.53" stroke="#000" stroke-width="1.3"/>
<line x1="520.8" y1="701.53" x2="519.0" y2="701.53" stroke="#000" stroke-width="1.3"/>
<line x1="316.3" y1="686.30" x2="313.1" y2="686.30" stroke="#000" stroke-width="1.3"/>
<line x1="520.8" y1="686.30" x2="517.5999999999999" y2="686.30" stroke="#000" stroke-width="1.3"/>
<text x="311.70" y="842.10" text-anchor="end" class="tl" style="font-size:12px">0.00</text>
<text x="311.70" y="811.64" text-anchor="end" class="tl" style="font-size:12px">0.02</text>
<text x="311.70" y="781.18" text-anchor="end" class="tl" style="font-size:12px">0.04</text>
<text x="311.70" y="750.72" text-anchor="end" class="tl" style="font-size:12px">0.06</text>
<text x="311.70" y="720.26" text-anchor="end" class="tl" style="font-size:12px">0.08</text>
<text x="311.70" y="689.80" text-anchor="end" class="tl" style="font-size:12px">0.10</text>
<text x="405.9" y="679" text-anchor="middle" class="pt">(h)</text>
<text x="413.2" y="866.5" text-anchor="middle" class="ax">Energy (eV)</text>
<text transform="translate(281,752.5) rotate(-90)" x="0" y="4.2" text-anchor="middle" class="ax">PDOS</text>
<text x="407.8" y="711.1" class="lt" style="font-size:12px">Projected DOS-O</text>
<line x1="407.8" y1="732.6" x2="434.5" y2="732.6" stroke="#111111" stroke-width="1.3"/>
<text x="437.4" y="736.5" class="lg" style="font-size:11px">s</text>
<line x1="407.8" y1="747.5" x2="434.5" y2="747.5" stroke="#ff1a1a" stroke-width="1.3"/>
<text x="437.4" y="751.4" class="lg" style="font-size:11px">p</text>
<text x="382.3" y="710.50" class="ef">E</text>
<path d="M394.30,710.40 Q393.50,710.40 393.10,711.40 L390.40,716.40 Q390.00,717.20 389.30,717.20" fill="none" stroke="#1a1aff" stroke-width="1.25" stroke-linecap="round"/>
</svg>
</body></html>
